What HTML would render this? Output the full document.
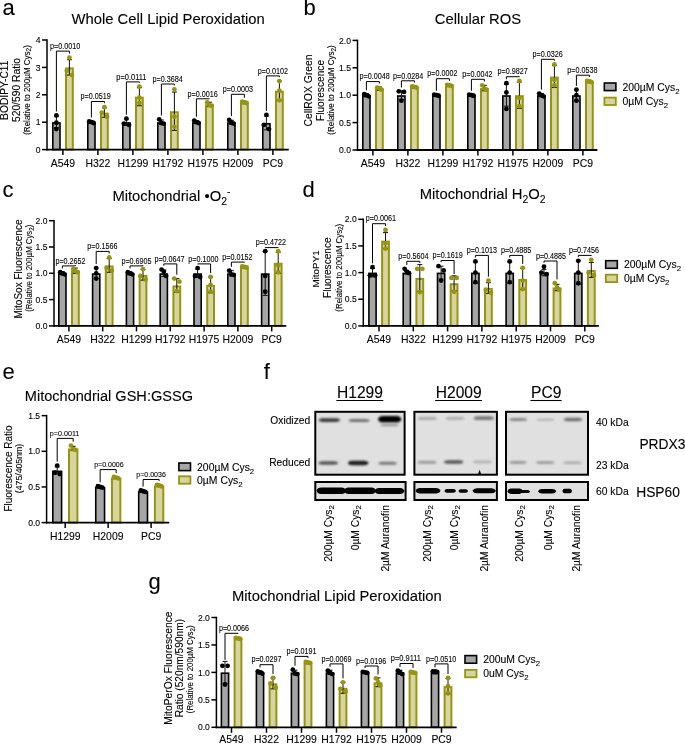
<!DOCTYPE html>
<html><head><meta charset="utf-8"><style>
html,body{margin:0;padding:0;background:#fff;}
svg{display:block;will-change:transform;}
svg text{font-family:"Liberation Sans", sans-serif;fill:#000;stroke:#000;stroke-width:0.1px;}
</style></head><body>
<svg width="685" height="744" viewBox="0 0 685 744">
<rect width="685" height="744" fill="#fff"/>
<defs><filter id="b1" x="-20%" y="-100%" width="140%" height="300%"><feGaussianBlur stdDeviation="0.9"/></filter><filter id="b2" x="-20%" y="-100%" width="140%" height="300%"><feGaussianBlur stdDeviation="0.6"/></filter></defs>
<rect x="315.3" y="411.8" width="89.3" height="62.9" fill="#e0e0e0" stroke="#000" stroke-width="2"/>
<rect x="414.4" y="411.8" width="82.5" height="62.9" fill="#e0e0e0" stroke="#000" stroke-width="2"/>
<rect x="506.0" y="411.8" width="82.0" height="62.9" fill="#e0e0e0" stroke="#000" stroke-width="2"/>
<rect x="315.3" y="482.0" width="90.3" height="18.0" fill="#e0e0e0" stroke="#000" stroke-width="2"/>
<rect x="414.4" y="482.0" width="82.5" height="18.0" fill="#e0e0e0" stroke="#000" stroke-width="2"/>
<rect x="506.0" y="482.0" width="82.0" height="18.0" fill="#e0e0e0" stroke="#000" stroke-width="2"/>
<path d="M318.4,420.10 Q319.5,418.20 322.9,418.20 L335.8,418.20 Q339.2,418.20 340.3,420.10 Q339.2,422.00 335.8,422.00 L322.9,422.00 Q319.5,422.00 318.4,420.10 Z" fill="#383838" fill-opacity="1.0" filter="url(#b1)"/>
<path d="M348.2,420.40 Q349.3,418.90 352.7,418.90 L365.5,418.90 Q368.9,418.90 370.0,420.40 Q368.9,421.90 365.5,421.90 L352.7,421.90 Q349.3,421.90 348.2,420.40 Z" fill="#6e6e6e" fill-opacity="1.0" filter="url(#b1)"/>
<path d="M378.0,419.30 Q379.1,416.05 382.5,416.05 L396.8,416.05 Q400.2,416.05 401.3,419.30 Q400.2,422.55 396.8,422.55 L382.5,422.55 Q379.1,422.55 378.0,419.30 Z" fill="#000" fill-opacity="1.0" filter="url(#b1)"/>
<path d="M380.0,425.00 Q381.0,423.75 384.2,423.75 L394.8,423.75 Q398.0,423.75 399.0,425.00 Q398.0,426.25 394.8,426.25 L384.2,426.25 Q381.0,426.25 380.0,425.00 Z" fill="#999" fill-opacity="1.0" filter="url(#b1)"/>
<path d="M318.0,463.00 Q319.1,461.30 322.5,461.30 L334.0,461.30 Q337.4,461.30 338.5,463.00 Q337.4,464.70 334.0,464.70 L322.5,464.70 Q319.1,464.70 318.0,463.00 Z" fill="#555" fill-opacity="1.0" filter="url(#b1)"/>
<path d="M347.7,463.00 Q348.8,460.70 352.2,460.70 L364.2,460.70 Q367.6,460.70 368.7,463.00 Q367.6,465.30 364.2,465.30 L352.2,465.30 Q348.8,465.30 347.7,463.00 Z" fill="#1a1a1a" fill-opacity="1.0" filter="url(#b1)"/>
<path d="M378.0,463.30 Q379.1,461.80 382.2,461.80 L393.0,461.80 Q396.1,461.80 397.2,463.30 Q396.1,464.80 393.0,464.80 L382.2,464.80 Q379.1,464.80 378.0,463.30 Z" fill="#777" fill-opacity="1.0" filter="url(#b1)"/>
<path d="M417.3,418.40 Q418.4,416.90 421.7,416.90 L433.0,416.90 Q436.3,416.90 437.4,418.40 Q436.3,419.90 433.0,419.90 L421.7,419.90 Q418.4,419.90 417.3,418.40 Z" fill="#aaa" fill-opacity="1.0" filter="url(#b1)"/>
<path d="M445.3,418.40 Q446.4,417.10 449.5,417.10 L460.4,417.10 Q463.5,417.10 464.6,418.40 Q463.5,419.70 460.4,419.70 L449.5,419.70 Q446.4,419.70 445.3,418.40 Z" fill="#aaa" fill-opacity="1.0" filter="url(#b1)"/>
<path d="M473.3,418.20 Q474.4,416.30 477.8,416.30 L489.8,416.30 Q493.2,416.30 494.3,418.20 Q493.2,420.10 489.8,420.10 L477.8,420.10 Q474.4,420.10 473.3,418.20 Z" fill="#777" fill-opacity="1.0" filter="url(#b1)"/>
<path d="M417.0,462.20 Q418.1,460.70 421.4,460.70 L432.6,460.70 Q435.9,460.70 437.0,462.20 Q435.9,463.70 432.6,463.70 L421.4,463.70 Q418.1,463.70 417.0,462.20 Z" fill="#999" fill-opacity="1.0" filter="url(#b1)"/>
<path d="M443.5,462.00 Q444.6,460.20 447.9,460.20 L459.3,460.20 Q462.6,460.20 463.7,462.00 Q462.6,463.80 459.3,463.80 L447.9,463.80 Q444.6,463.80 443.5,462.00 Z" fill="#555" fill-opacity="1.0" filter="url(#b1)"/>
<path d="M472.4,462.00 Q473.5,460.60 476.8,460.60 L488.2,460.60 Q491.5,460.60 492.6,462.00 Q491.5,463.40 488.2,463.40 L476.8,463.40 Q473.5,463.40 472.4,462.00 Z" fill="#b4b4b4" fill-opacity="1.0" filter="url(#b1)"/>
<path d="M478.0,474.0 L479.6,469.8 L481.2,474.0 Z" fill="#111"/>
<path d="M509.0,419.60 Q510.0,418.10 513.0,418.10 L523.4,418.10 Q526.4,418.10 527.4,419.60 Q526.4,421.10 523.4,421.10 L513.0,421.10 Q510.0,421.10 509.0,419.60 Z" fill="#888" fill-opacity="1.0" filter="url(#b1)"/>
<path d="M536.2,419.80 Q537.2,418.60 540.2,418.60 L550.6,418.60 Q553.6,418.60 554.6,419.80 Q553.6,421.00 550.6,421.00 L540.2,421.00 Q537.2,421.00 536.2,419.80 Z" fill="#b8b8b8" fill-opacity="1.0" filter="url(#b1)"/>
<path d="M563.3,419.50 Q564.4,417.70 567.5,417.70 L578.4,417.70 Q581.5,417.70 582.6,419.50 Q581.5,421.30 578.4,421.30 L567.5,421.30 Q564.4,421.30 563.3,419.50 Z" fill="#707070" fill-opacity="1.0" filter="url(#b1)"/>
<path d="M509.0,462.50 Q510.0,461.10 513.0,461.10 L523.0,461.10 Q526.0,461.10 527.0,462.50 Q526.0,463.90 523.0,463.90 L513.0,463.90 Q510.0,463.90 509.0,462.50 Z" fill="#999" fill-opacity="1.0" filter="url(#b1)"/>
<path d="M535.5,462.60 Q536.6,461.20 539.8,461.20 L550.7,461.20 Q553.9,461.20 555.0,462.60 Q553.9,464.00 550.7,464.00 L539.8,464.00 Q536.6,464.00 535.5,462.60 Z" fill="#999" fill-opacity="1.0" filter="url(#b1)"/>
<path d="M563.0,462.80 Q564.0,461.50 567.2,461.50 L577.8,461.50 Q581.0,461.50 582.0,462.80 Q581.0,464.10 577.8,464.10 L567.2,464.10 Q564.0,464.10 563.0,462.80 Z" fill="#a8a8a8" fill-opacity="1.0" filter="url(#b1)"/>
<path d="M316.5,490.70 Q317.6,487.50 321.0,487.50 L341.5,487.50 Q344.9,487.50 346.0,490.70 Q344.9,493.90 341.5,493.90 L321.0,493.90 Q317.6,493.90 316.5,490.70 Z" fill="#000" fill-opacity="1" filter="url(#b2)"/>
<path d="M344.0,490.70 Q345.1,487.50 348.5,487.50 L371.5,487.50 Q374.9,487.50 376.0,490.70 Q374.9,493.90 371.5,493.90 L348.5,493.90 Q345.1,493.90 344.0,490.70 Z" fill="#000" fill-opacity="1" filter="url(#b2)"/>
<path d="M374.5,490.90 Q375.6,487.90 379.0,487.90 L400.0,487.90 Q403.4,487.90 404.5,490.90 Q403.4,493.90 400.0,493.90 L379.0,493.90 Q375.6,493.90 374.5,490.90 Z" fill="#000" fill-opacity="1" filter="url(#b2)"/>
<path d="M415.5,490.80 Q416.6,488.10 420.0,488.10 L436.0,488.10 Q439.4,488.10 440.5,490.80 Q439.4,493.50 436.0,493.50 L420.0,493.50 Q416.6,493.50 415.5,490.80 Z" fill="#000" fill-opacity="1" filter="url(#b2)"/>
<path d="M444.4,490.90 Q445.0,489.10 447.0,489.10 L453.4,489.10 Q455.4,489.10 456.0,490.90 Q455.4,492.70 453.4,492.70 L447.0,492.70 Q445.0,492.70 444.4,490.90 Z" fill="#000" fill-opacity="1" filter="url(#b2)"/>
<path d="M458.4,491.00 Q458.9,489.30 460.5,489.30 L465.9,489.30 Q467.5,489.30 468.0,491.00 Q467.5,492.70 465.9,492.70 L460.5,492.70 Q458.9,492.70 458.4,491.00 Z" fill="#000" fill-opacity="1" filter="url(#b2)"/>
<path d="M472.4,490.80 Q473.5,488.30 476.9,488.30 L491.5,488.30 Q494.9,488.30 496.0,490.80 Q494.9,493.30 491.5,493.30 L476.9,493.30 Q473.5,493.30 472.4,490.80 Z" fill="#000" fill-opacity="1" filter="url(#b2)"/>
<path d="M507.3,491.20 Q508.2,488.40 510.8,488.40 L519.5,488.40 Q522.1,488.40 523.0,491.20 Q522.1,494.00 519.5,494.00 L510.8,494.00 Q508.2,494.00 507.3,491.20 Z" fill="#000" fill-opacity="1" filter="url(#b2)"/>
<path d="M519.0,491.60 Q519.6,490.10 521.4,490.10 L527.6,490.10 Q529.4,490.10 530.0,491.60 Q529.4,493.10 527.6,493.10 L521.4,493.10 Q519.6,493.10 519.0,491.60 Z" fill="#000" fill-opacity="1" filter="url(#b2)"/>
<path d="M538.0,491.20 Q539.0,489.00 542.0,489.00 L552.3,489.00 Q555.3,489.00 556.3,491.20 Q555.3,493.40 552.3,493.40 L542.0,493.40 Q539.0,493.40 538.0,491.20 Z" fill="#000" fill-opacity="1" filter="url(#b2)"/>
<path d="M562.4,491.00 Q562.9,488.80 564.5,488.80 L569.9,488.80 Q571.5,488.80 572.0,491.00 Q571.5,493.20 569.9,493.20 L564.5,493.20 Q562.9,493.20 562.4,491.00 Z" fill="#000" fill-opacity="1" filter="url(#b2)"/>
<text x="310.20" y="423.90" font-size="10.25" text-anchor="end" >Oxidized</text>
<text x="310.20" y="466.40" font-size="10.25" text-anchor="end" >Reduced</text>
<text x="596.00" y="425.50" font-size="10.3" text-anchor="start" >40 kDa</text>
<text x="596.00" y="468.80" font-size="10.3" text-anchor="start" >23 kDa</text>
<text x="596.00" y="495.30" font-size="10.3" text-anchor="start" >60 kDa</text>
<text x="639.40" y="448.90" font-size="13.8" text-anchor="start" >PRDX3</text>
<text x="636.20" y="497.00" font-size="13.8" text-anchor="start" >HSP60</text>
<text x="359.95" y="398.2" font-size="15.6" text-anchor="middle">H1299</text>
<line x1="336.37" y1="400.5" x2="383.23" y2="400.5" stroke="#000" stroke-width="1.1"/>
<text x="458.70" y="398.2" font-size="15.6" text-anchor="middle">H2009</text>
<line x1="435.12" y1="400.5" x2="481.98" y2="400.5" stroke="#000" stroke-width="1.1"/>
<text x="546.20" y="398.2" font-size="15.6" text-anchor="middle">PC9</text>
<line x1="530.43" y1="400.5" x2="561.67" y2="400.5" stroke="#000" stroke-width="1.1"/>
<text transform="translate(331.90,505.0) rotate(-90)" font-size="10.3" text-anchor="end">200µM Cys<tspan font-size="78%" dy="2">2</tspan></text>
<text transform="translate(359.40,505.0) rotate(-90)" font-size="10.3" text-anchor="end">0µM Cys<tspan font-size="78%" dy="2">2</tspan></text>
<text transform="translate(388.60,505.0) rotate(-90)" font-size="10.3" text-anchor="end">2µM Auranofin</text>
<text transform="translate(430.50,505.0) rotate(-90)" font-size="10.3" text-anchor="end">200µM Cys<tspan font-size="78%" dy="2">2</tspan></text>
<text transform="translate(458.10,505.0) rotate(-90)" font-size="10.3" text-anchor="end">0µM Cys<tspan font-size="78%" dy="2">2</tspan></text>
<text transform="translate(487.50,505.0) rotate(-90)" font-size="10.3" text-anchor="end">2µM Auranofin</text>
<text transform="translate(523.00,505.0) rotate(-90)" font-size="10.3" text-anchor="end">200µM Cys<tspan font-size="78%" dy="2">2</tspan></text>
<text transform="translate(551.90,505.0) rotate(-90)" font-size="10.3" text-anchor="end">0µM Cys<tspan font-size="78%" dy="2">2</tspan></text>
<text transform="translate(579.50,505.0) rotate(-90)" font-size="10.3" text-anchor="end">2µM Auranofin</text>
<rect x="52.80" y="123.00" width="7.20" height="26.60" fill="#a6a6a6" stroke="#000" stroke-width="1.6"/>
<line x1="56.40" y1="116.72" x2="56.40" y2="127.68" stroke="#111" stroke-width="1"/>
<line x1="53.90" y1="116.72" x2="58.90" y2="116.72" stroke="#111" stroke-width="1"/>
<line x1="53.90" y1="127.68" x2="58.90" y2="127.68" stroke="#111" stroke-width="1"/>
<circle cx="56.40" cy="115.35" r="2.4" fill="#000"/>
<circle cx="56.40" cy="122.75" r="2.4" fill="#000"/>
<circle cx="56.40" cy="129.05" r="2.4" fill="#000"/>
<rect x="66.00" y="68.40" width="6.80" height="81.20" fill="#d6d4a0" stroke="#97950f" stroke-width="2.0"/>
<line x1="69.40" y1="59.73" x2="69.40" y2="75.07" stroke="#111" stroke-width="1"/>
<line x1="66.90" y1="59.73" x2="71.90" y2="59.73" stroke="#111" stroke-width="1"/>
<line x1="66.90" y1="75.07" x2="71.90" y2="75.07" stroke="#111" stroke-width="1"/>
<circle cx="69.40" cy="57.54" r="2.4" fill="#97950f"/>
<circle cx="66.80" cy="70.69" r="2.4" fill="#97950f"/>
<circle cx="72.00" cy="75.07" r="2.4" fill="#97950f"/>
<polyline points="56.40,111.45 56.40,51.10 69.40,51.10 69.40,53.64" fill="none" stroke="#000" stroke-width="1"/>
<text x="65.10" y="48.80" font-size="8.8" text-anchor="middle" textLength="30.2" lengthAdjust="spacingAndGlyphs">p=0.0010</text>
<line x1="62.90" y1="149.60" x2="62.90" y2="155.10" stroke="#000" stroke-width="1.5"/>
<text x="62.90" y="166.80" font-size="10.4" text-anchor="middle" >A549</text>
<rect x="87.80" y="123.00" width="7.20" height="26.60" fill="#a6a6a6" stroke="#000" stroke-width="1.6"/>
<line x1="91.40" y1="121.10" x2="91.40" y2="123.30" stroke="#111" stroke-width="1"/>
<line x1="88.90" y1="121.10" x2="93.90" y2="121.10" stroke="#111" stroke-width="1"/>
<line x1="88.90" y1="123.30" x2="93.90" y2="123.30" stroke="#111" stroke-width="1"/>
<circle cx="89.20" cy="121.38" r="2.4" fill="#000"/>
<circle cx="91.40" cy="122.20" r="2.4" fill="#000"/>
<circle cx="93.60" cy="123.02" r="2.4" fill="#000"/>
<rect x="101.00" y="113.61" width="6.80" height="35.99" fill="#d6d4a0" stroke="#97950f" stroke-width="2.0"/>
<line x1="104.40" y1="107.95" x2="104.40" y2="117.27" stroke="#111" stroke-width="1"/>
<line x1="101.90" y1="107.95" x2="106.90" y2="107.95" stroke="#111" stroke-width="1"/>
<line x1="101.90" y1="117.27" x2="106.90" y2="117.27" stroke="#111" stroke-width="1"/>
<circle cx="104.40" cy="107.13" r="2.4" fill="#97950f"/>
<circle cx="101.80" cy="112.61" r="2.4" fill="#97950f"/>
<circle cx="107.00" cy="116.72" r="2.4" fill="#97950f"/>
<polyline points="91.40,117.48 91.40,101.50 104.40,101.50 104.40,103.23" fill="none" stroke="#000" stroke-width="1"/>
<text x="95.60" y="99.20" font-size="8.8" text-anchor="middle" textLength="30.2" lengthAdjust="spacingAndGlyphs">p=0.0519</text>
<line x1="97.90" y1="149.60" x2="97.90" y2="155.10" stroke="#000" stroke-width="1.5"/>
<text x="97.90" y="166.80" font-size="10.4" text-anchor="middle" >H322</text>
<rect x="122.80" y="123.00" width="7.20" height="26.60" fill="#a6a6a6" stroke="#000" stroke-width="1.6"/>
<line x1="126.40" y1="118.91" x2="126.40" y2="125.49" stroke="#111" stroke-width="1"/>
<line x1="123.90" y1="118.91" x2="128.90" y2="118.91" stroke="#111" stroke-width="1"/>
<line x1="123.90" y1="125.49" x2="128.90" y2="125.49" stroke="#111" stroke-width="1"/>
<circle cx="126.40" cy="118.64" r="2.4" fill="#000"/>
<circle cx="123.80" cy="123.57" r="2.4" fill="#000"/>
<circle cx="129.00" cy="124.94" r="2.4" fill="#000"/>
<rect x="136.00" y="97.72" width="6.80" height="51.88" fill="#d6d4a0" stroke="#97950f" stroke-width="2.0"/>
<line x1="139.40" y1="87.68" x2="139.40" y2="105.76" stroke="#111" stroke-width="1"/>
<line x1="136.90" y1="87.68" x2="141.90" y2="87.68" stroke="#111" stroke-width="1"/>
<line x1="136.90" y1="105.76" x2="141.90" y2="105.76" stroke="#111" stroke-width="1"/>
<circle cx="139.40" cy="86.58" r="2.4" fill="#97950f"/>
<circle cx="139.40" cy="97.54" r="2.4" fill="#97950f"/>
<circle cx="139.40" cy="103.02" r="2.4" fill="#97950f"/>
<polyline points="126.40,114.74 126.40,81.90 139.40,81.90 139.40,82.68" fill="none" stroke="#000" stroke-width="1"/>
<text x="131.40" y="79.60" font-size="8.8" text-anchor="middle" textLength="30.2" lengthAdjust="spacingAndGlyphs">p=0.0111</text>
<line x1="132.90" y1="149.60" x2="132.90" y2="155.10" stroke="#000" stroke-width="1.5"/>
<text x="132.90" y="166.80" font-size="10.4" text-anchor="middle" >H1299</text>
<rect x="157.80" y="123.00" width="7.20" height="26.60" fill="#a6a6a6" stroke="#000" stroke-width="1.6"/>
<line x1="161.40" y1="120.01" x2="161.40" y2="124.39" stroke="#111" stroke-width="1"/>
<line x1="158.90" y1="120.01" x2="163.90" y2="120.01" stroke="#111" stroke-width="1"/>
<line x1="158.90" y1="124.39" x2="163.90" y2="124.39" stroke="#111" stroke-width="1"/>
<circle cx="159.20" cy="119.46" r="2.4" fill="#000"/>
<circle cx="161.40" cy="123.02" r="2.4" fill="#000"/>
<circle cx="163.60" cy="123.57" r="2.4" fill="#000"/>
<rect x="171.00" y="112.24" width="6.80" height="37.36" fill="#d6d4a0" stroke="#97950f" stroke-width="2.0"/>
<line x1="174.40" y1="92.06" x2="174.40" y2="130.42" stroke="#111" stroke-width="1"/>
<line x1="171.90" y1="92.06" x2="176.90" y2="92.06" stroke="#111" stroke-width="1"/>
<line x1="171.90" y1="130.42" x2="176.90" y2="130.42" stroke="#111" stroke-width="1"/>
<circle cx="174.40" cy="89.32" r="2.4" fill="#97950f"/>
<circle cx="174.40" cy="116.72" r="2.4" fill="#97950f"/>
<circle cx="174.40" cy="126.86" r="2.4" fill="#97950f"/>
<polyline points="161.40,115.56 161.40,84.00 174.40,84.00 174.40,85.42" fill="none" stroke="#000" stroke-width="1"/>
<text x="167.60" y="81.70" font-size="8.8" text-anchor="middle" textLength="30.2" lengthAdjust="spacingAndGlyphs">p=0.3684</text>
<line x1="167.90" y1="149.60" x2="167.90" y2="155.10" stroke="#000" stroke-width="1.5"/>
<text x="167.90" y="166.80" font-size="10.4" text-anchor="middle" >H1792</text>
<rect x="192.80" y="123.00" width="7.20" height="26.60" fill="#a6a6a6" stroke="#000" stroke-width="1.6"/>
<line x1="196.40" y1="120.83" x2="196.40" y2="123.57" stroke="#111" stroke-width="1"/>
<line x1="193.90" y1="120.83" x2="198.90" y2="120.83" stroke="#111" stroke-width="1"/>
<line x1="193.90" y1="123.57" x2="198.90" y2="123.57" stroke="#111" stroke-width="1"/>
<circle cx="194.20" cy="120.56" r="2.4" fill="#000"/>
<circle cx="196.40" cy="122.20" r="2.4" fill="#000"/>
<circle cx="198.60" cy="123.02" r="2.4" fill="#000"/>
<rect x="206.00" y="105.39" width="6.80" height="44.21" fill="#d6d4a0" stroke="#97950f" stroke-width="2.0"/>
<line x1="209.40" y1="102.20" x2="209.40" y2="106.58" stroke="#111" stroke-width="1"/>
<line x1="206.90" y1="102.20" x2="211.90" y2="102.20" stroke="#111" stroke-width="1"/>
<line x1="206.90" y1="106.58" x2="211.90" y2="106.58" stroke="#111" stroke-width="1"/>
<circle cx="207.20" cy="102.47" r="2.4" fill="#97950f"/>
<circle cx="211.60" cy="105.76" r="2.4" fill="#97950f"/>
<circle cx="209.40" cy="105.21" r="2.4" fill="#97950f"/>
<polyline points="196.40,116.66 196.40,98.80 209.40,98.80 209.40,98.57" fill="none" stroke="#000" stroke-width="1"/>
<text x="202.60" y="96.50" font-size="8.8" text-anchor="middle" textLength="30.2" lengthAdjust="spacingAndGlyphs">p=0.0016</text>
<line x1="202.90" y1="149.60" x2="202.90" y2="155.10" stroke="#000" stroke-width="1.5"/>
<text x="202.90" y="166.80" font-size="10.4" text-anchor="middle" >H1975</text>
<rect x="227.80" y="123.00" width="7.20" height="26.60" fill="#a6a6a6" stroke="#000" stroke-width="1.6"/>
<line x1="231.40" y1="120.28" x2="231.40" y2="124.12" stroke="#111" stroke-width="1"/>
<line x1="228.90" y1="120.28" x2="233.90" y2="120.28" stroke="#111" stroke-width="1"/>
<line x1="228.90" y1="124.12" x2="233.90" y2="124.12" stroke="#111" stroke-width="1"/>
<circle cx="229.20" cy="120.01" r="2.4" fill="#000"/>
<circle cx="231.40" cy="122.75" r="2.4" fill="#000"/>
<circle cx="233.60" cy="123.57" r="2.4" fill="#000"/>
<rect x="241.00" y="103.47" width="6.80" height="46.13" fill="#d6d4a0" stroke="#97950f" stroke-width="2.0"/>
<line x1="244.40" y1="101.38" x2="244.40" y2="103.57" stroke="#111" stroke-width="1"/>
<line x1="241.90" y1="101.38" x2="246.90" y2="101.38" stroke="#111" stroke-width="1"/>
<line x1="241.90" y1="103.57" x2="246.90" y2="103.57" stroke="#111" stroke-width="1"/>
<circle cx="242.20" cy="101.65" r="2.4" fill="#97950f"/>
<circle cx="244.40" cy="102.47" r="2.4" fill="#97950f"/>
<circle cx="246.60" cy="103.02" r="2.4" fill="#97950f"/>
<polyline points="231.40,116.11 231.40,94.30 244.40,94.30 244.40,97.75" fill="none" stroke="#000" stroke-width="1"/>
<text x="237.90" y="92.00" font-size="8.8" text-anchor="middle" textLength="30.2" lengthAdjust="spacingAndGlyphs">p=0.0003</text>
<line x1="237.90" y1="149.60" x2="237.90" y2="155.10" stroke="#000" stroke-width="1.5"/>
<text x="237.90" y="166.80" font-size="10.4" text-anchor="middle" >H2009</text>
<rect x="262.80" y="123.82" width="7.20" height="25.78" fill="#a6a6a6" stroke="#000" stroke-width="1.6"/>
<line x1="266.40" y1="116.17" x2="266.40" y2="129.87" stroke="#111" stroke-width="1"/>
<line x1="263.90" y1="116.17" x2="268.90" y2="116.17" stroke="#111" stroke-width="1"/>
<line x1="263.90" y1="129.87" x2="268.90" y2="129.87" stroke="#111" stroke-width="1"/>
<circle cx="266.40" cy="114.80" r="2.4" fill="#000"/>
<circle cx="269.00" cy="129.05" r="2.4" fill="#000"/>
<circle cx="263.80" cy="124.94" r="2.4" fill="#000"/>
<rect x="276.00" y="91.69" width="6.80" height="57.91" fill="#d6d4a0" stroke="#97950f" stroke-width="2.0"/>
<line x1="279.40" y1="81.10" x2="279.40" y2="100.28" stroke="#111" stroke-width="1"/>
<line x1="276.90" y1="81.10" x2="281.90" y2="81.10" stroke="#111" stroke-width="1"/>
<line x1="276.90" y1="100.28" x2="281.90" y2="100.28" stroke="#111" stroke-width="1"/>
<circle cx="279.40" cy="81.10" r="2.4" fill="#97950f"/>
<circle cx="279.40" cy="90.69" r="2.4" fill="#97950f"/>
<circle cx="279.40" cy="100.28" r="2.4" fill="#97950f"/>
<polyline points="266.40,110.90 266.40,75.90 279.40,75.90 279.40,77.20" fill="none" stroke="#000" stroke-width="1"/>
<text x="272.90" y="73.60" font-size="8.8" text-anchor="middle" textLength="30.2" lengthAdjust="spacingAndGlyphs">p=0.0102</text>
<line x1="272.90" y1="149.60" x2="272.90" y2="155.10" stroke="#000" stroke-width="1.5"/>
<text x="272.90" y="166.80" font-size="10.4" text-anchor="middle" >PC9</text>
<line x1="47.00" y1="39.25" x2="47.00" y2="150.50" stroke="#000" stroke-width="1.5"/>
<line x1="46.25" y1="149.60" x2="288.80" y2="149.60" stroke="#000" stroke-width="1.8"/>
<line x1="42.00" y1="149.60" x2="47.00" y2="149.60" stroke="#000" stroke-width="1.5"/>
<text x="40.50" y="152.70" font-size="8.6" text-anchor="end" >0</text>
<line x1="42.00" y1="122.20" x2="47.00" y2="122.20" stroke="#000" stroke-width="1.5"/>
<text x="40.50" y="125.30" font-size="8.6" text-anchor="end" >1</text>
<line x1="42.00" y1="94.80" x2="47.00" y2="94.80" stroke="#000" stroke-width="1.5"/>
<text x="40.50" y="97.90" font-size="8.6" text-anchor="end" >2</text>
<line x1="42.00" y1="67.40" x2="47.00" y2="67.40" stroke="#000" stroke-width="1.5"/>
<text x="40.50" y="70.50" font-size="8.6" text-anchor="end" >3</text>
<line x1="42.00" y1="40.00" x2="47.00" y2="40.00" stroke="#000" stroke-width="1.5"/>
<text x="40.50" y="43.10" font-size="8.6" text-anchor="end" >4</text>
<rect x="362.80" y="96.00" width="7.20" height="54.00" fill="#a6a6a6" stroke="#000" stroke-width="1.6"/>
<line x1="366.40" y1="93.56" x2="366.40" y2="96.84" stroke="#111" stroke-width="1"/>
<line x1="363.90" y1="93.56" x2="368.90" y2="93.56" stroke="#111" stroke-width="1"/>
<line x1="363.90" y1="96.84" x2="368.90" y2="96.84" stroke="#111" stroke-width="1"/>
<circle cx="364.20" cy="94.10" r="2.4" fill="#000"/>
<circle cx="366.40" cy="95.20" r="2.4" fill="#000"/>
<circle cx="368.60" cy="96.30" r="2.4" fill="#000"/>
<rect x="376.00" y="89.62" width="6.80" height="60.38" fill="#d6d4a0" stroke="#97950f" stroke-width="2.0"/>
<line x1="379.40" y1="86.98" x2="379.40" y2="90.27" stroke="#111" stroke-width="1"/>
<line x1="376.90" y1="86.98" x2="381.90" y2="86.98" stroke="#111" stroke-width="1"/>
<line x1="376.90" y1="90.27" x2="381.90" y2="90.27" stroke="#111" stroke-width="1"/>
<circle cx="377.20" cy="87.53" r="2.4" fill="#97950f"/>
<circle cx="379.40" cy="88.62" r="2.4" fill="#97950f"/>
<circle cx="381.60" cy="89.72" r="2.4" fill="#97950f"/>
<polyline points="366.40,90.20 366.40,81.60 379.40,81.60 379.40,83.63" fill="none" stroke="#000" stroke-width="1"/>
<text x="374.70" y="79.30" font-size="8.8" text-anchor="middle" textLength="30.2" lengthAdjust="spacingAndGlyphs">p=0.0048</text>
<line x1="372.90" y1="150.00" x2="372.90" y2="155.50" stroke="#000" stroke-width="1.5"/>
<text x="372.90" y="167.20" font-size="10.4" text-anchor="middle" >A549</text>
<rect x="397.80" y="96.00" width="7.20" height="54.00" fill="#a6a6a6" stroke="#000" stroke-width="1.6"/>
<line x1="401.40" y1="90.82" x2="401.40" y2="99.58" stroke="#111" stroke-width="1"/>
<line x1="398.90" y1="90.82" x2="403.90" y2="90.82" stroke="#111" stroke-width="1"/>
<line x1="398.90" y1="99.58" x2="403.90" y2="99.58" stroke="#111" stroke-width="1"/>
<circle cx="398.80" cy="91.36" r="2.4" fill="#000"/>
<circle cx="404.00" cy="91.91" r="2.4" fill="#000"/>
<circle cx="401.40" cy="100.68" r="2.4" fill="#000"/>
<rect x="411.00" y="87.98" width="6.80" height="62.02" fill="#d6d4a0" stroke="#97950f" stroke-width="2.0"/>
<line x1="414.40" y1="85.88" x2="414.40" y2="88.08" stroke="#111" stroke-width="1"/>
<line x1="411.90" y1="85.88" x2="416.90" y2="85.88" stroke="#111" stroke-width="1"/>
<line x1="411.90" y1="88.08" x2="416.90" y2="88.08" stroke="#111" stroke-width="1"/>
<circle cx="412.20" cy="86.43" r="2.4" fill="#97950f"/>
<circle cx="414.40" cy="86.98" r="2.4" fill="#97950f"/>
<circle cx="416.60" cy="87.53" r="2.4" fill="#97950f"/>
<polyline points="401.40,87.46 401.40,80.80 414.40,80.80 414.40,82.53" fill="none" stroke="#000" stroke-width="1"/>
<text x="408.20" y="78.50" font-size="8.8" text-anchor="middle" textLength="30.2" lengthAdjust="spacingAndGlyphs">p=0.0284</text>
<line x1="407.90" y1="150.00" x2="407.90" y2="155.50" stroke="#000" stroke-width="1.5"/>
<text x="407.90" y="167.20" font-size="10.4" text-anchor="middle" >H322</text>
<rect x="432.80" y="96.00" width="7.20" height="54.00" fill="#a6a6a6" stroke="#000" stroke-width="1.6"/>
<line x1="436.40" y1="94.10" x2="436.40" y2="96.30" stroke="#111" stroke-width="1"/>
<line x1="433.90" y1="94.10" x2="438.90" y2="94.10" stroke="#111" stroke-width="1"/>
<line x1="433.90" y1="96.30" x2="438.90" y2="96.30" stroke="#111" stroke-width="1"/>
<circle cx="434.20" cy="94.65" r="2.4" fill="#000"/>
<circle cx="436.40" cy="95.20" r="2.4" fill="#000"/>
<circle cx="438.60" cy="95.75" r="2.4" fill="#000"/>
<rect x="446.00" y="86.34" width="6.80" height="63.66" fill="#d6d4a0" stroke="#97950f" stroke-width="2.0"/>
<line x1="449.40" y1="84.24" x2="449.40" y2="86.43" stroke="#111" stroke-width="1"/>
<line x1="446.90" y1="84.24" x2="451.90" y2="84.24" stroke="#111" stroke-width="1"/>
<line x1="446.90" y1="86.43" x2="451.90" y2="86.43" stroke="#111" stroke-width="1"/>
<circle cx="447.20" cy="84.79" r="2.4" fill="#97950f"/>
<circle cx="449.40" cy="85.34" r="2.4" fill="#97950f"/>
<circle cx="451.60" cy="85.88" r="2.4" fill="#97950f"/>
<polyline points="436.40,90.75 436.40,78.70 449.40,78.70 449.40,80.89" fill="none" stroke="#000" stroke-width="1"/>
<text x="442.40" y="76.40" font-size="8.8" text-anchor="middle" textLength="30.2" lengthAdjust="spacingAndGlyphs">p=0.0002</text>
<line x1="442.90" y1="150.00" x2="442.90" y2="155.50" stroke="#000" stroke-width="1.5"/>
<text x="442.90" y="167.20" font-size="10.4" text-anchor="middle" >H1299</text>
<rect x="467.80" y="96.00" width="7.20" height="54.00" fill="#a6a6a6" stroke="#000" stroke-width="1.6"/>
<line x1="471.40" y1="94.10" x2="471.40" y2="96.30" stroke="#111" stroke-width="1"/>
<line x1="468.90" y1="94.10" x2="473.90" y2="94.10" stroke="#111" stroke-width="1"/>
<line x1="468.90" y1="96.30" x2="473.90" y2="96.30" stroke="#111" stroke-width="1"/>
<circle cx="469.20" cy="94.65" r="2.4" fill="#000"/>
<circle cx="471.40" cy="95.20" r="2.4" fill="#000"/>
<circle cx="473.60" cy="95.75" r="2.4" fill="#000"/>
<rect x="481.00" y="89.08" width="6.80" height="60.92" fill="#d6d4a0" stroke="#97950f" stroke-width="2.0"/>
<line x1="484.40" y1="85.34" x2="484.40" y2="90.82" stroke="#111" stroke-width="1"/>
<line x1="481.90" y1="85.34" x2="486.90" y2="85.34" stroke="#111" stroke-width="1"/>
<line x1="481.90" y1="90.82" x2="486.90" y2="90.82" stroke="#111" stroke-width="1"/>
<circle cx="482.20" cy="85.34" r="2.4" fill="#97950f"/>
<circle cx="484.40" cy="88.62" r="2.4" fill="#97950f"/>
<circle cx="486.60" cy="89.72" r="2.4" fill="#97950f"/>
<polyline points="471.40,90.75 471.40,79.30 484.40,79.30 484.40,81.44" fill="none" stroke="#000" stroke-width="1"/>
<text x="477.30" y="77.00" font-size="8.8" text-anchor="middle" textLength="30.2" lengthAdjust="spacingAndGlyphs">p=0.0042</text>
<line x1="477.90" y1="150.00" x2="477.90" y2="155.50" stroke="#000" stroke-width="1.5"/>
<text x="477.90" y="167.20" font-size="10.4" text-anchor="middle" >H1792</text>
<rect x="502.80" y="96.00" width="7.20" height="54.00" fill="#a6a6a6" stroke="#000" stroke-width="1.6"/>
<line x1="506.40" y1="84.24" x2="506.40" y2="106.16" stroke="#111" stroke-width="1"/>
<line x1="503.90" y1="84.24" x2="508.90" y2="84.24" stroke="#111" stroke-width="1"/>
<line x1="503.90" y1="106.16" x2="508.90" y2="106.16" stroke="#111" stroke-width="1"/>
<circle cx="506.40" cy="83.14" r="2.4" fill="#000"/>
<circle cx="506.40" cy="92.46" r="2.4" fill="#000"/>
<circle cx="506.40" cy="108.90" r="2.4" fill="#000"/>
<rect x="516.00" y="96.20" width="6.80" height="53.80" fill="#d6d4a0" stroke="#97950f" stroke-width="2.0"/>
<line x1="519.40" y1="82.05" x2="519.40" y2="108.35" stroke="#111" stroke-width="1"/>
<line x1="516.90" y1="82.05" x2="521.90" y2="82.05" stroke="#111" stroke-width="1"/>
<line x1="516.90" y1="108.35" x2="521.90" y2="108.35" stroke="#111" stroke-width="1"/>
<circle cx="519.40" cy="80.95" r="2.4" fill="#97950f"/>
<circle cx="519.40" cy="97.94" r="2.4" fill="#97950f"/>
<circle cx="519.40" cy="106.16" r="2.4" fill="#97950f"/>
<polyline points="506.40,79.24 506.40,76.70 519.40,76.70 519.40,77.05" fill="none" stroke="#000" stroke-width="1"/>
<text x="512.60" y="74.40" font-size="8.8" text-anchor="middle" textLength="30.2" lengthAdjust="spacingAndGlyphs">p=0.9827</text>
<line x1="512.90" y1="150.00" x2="512.90" y2="155.50" stroke="#000" stroke-width="1.5"/>
<text x="512.90" y="167.20" font-size="10.4" text-anchor="middle" >H1975</text>
<rect x="537.80" y="96.00" width="7.20" height="54.00" fill="#a6a6a6" stroke="#000" stroke-width="1.6"/>
<line x1="541.40" y1="93.56" x2="541.40" y2="96.84" stroke="#111" stroke-width="1"/>
<line x1="538.90" y1="93.56" x2="543.90" y2="93.56" stroke="#111" stroke-width="1"/>
<line x1="538.90" y1="96.84" x2="543.90" y2="96.84" stroke="#111" stroke-width="1"/>
<circle cx="539.20" cy="93.56" r="2.4" fill="#000"/>
<circle cx="541.40" cy="95.20" r="2.4" fill="#000"/>
<circle cx="543.60" cy="96.30" r="2.4" fill="#000"/>
<rect x="551.00" y="77.57" width="6.80" height="72.43" fill="#d6d4a0" stroke="#97950f" stroke-width="2.0"/>
<line x1="554.40" y1="65.61" x2="554.40" y2="87.53" stroke="#111" stroke-width="1"/>
<line x1="551.90" y1="65.61" x2="556.90" y2="65.61" stroke="#111" stroke-width="1"/>
<line x1="551.90" y1="87.53" x2="556.90" y2="87.53" stroke="#111" stroke-width="1"/>
<circle cx="554.40" cy="64.51" r="2.4" fill="#97950f"/>
<circle cx="554.40" cy="79.86" r="2.4" fill="#97950f"/>
<circle cx="554.40" cy="85.34" r="2.4" fill="#97950f"/>
<polyline points="541.40,89.66 541.40,59.30 554.40,59.30 554.40,60.61" fill="none" stroke="#000" stroke-width="1"/>
<text x="547.60" y="57.00" font-size="8.8" text-anchor="middle" textLength="30.2" lengthAdjust="spacingAndGlyphs">p=0.0326</text>
<line x1="547.90" y1="150.00" x2="547.90" y2="155.50" stroke="#000" stroke-width="1.5"/>
<text x="547.90" y="167.20" font-size="10.4" text-anchor="middle" >H2009</text>
<rect x="572.80" y="96.00" width="7.20" height="54.00" fill="#a6a6a6" stroke="#000" stroke-width="1.6"/>
<line x1="576.40" y1="89.72" x2="576.40" y2="100.68" stroke="#111" stroke-width="1"/>
<line x1="573.90" y1="89.72" x2="578.90" y2="89.72" stroke="#111" stroke-width="1"/>
<line x1="573.90" y1="100.68" x2="578.90" y2="100.68" stroke="#111" stroke-width="1"/>
<circle cx="576.40" cy="89.72" r="2.4" fill="#000"/>
<circle cx="576.40" cy="95.20" r="2.4" fill="#000"/>
<circle cx="576.40" cy="100.68" r="2.4" fill="#000"/>
<rect x="586.00" y="82.50" width="6.80" height="67.50" fill="#d6d4a0" stroke="#97950f" stroke-width="2.0"/>
<line x1="589.40" y1="80.40" x2="589.40" y2="82.60" stroke="#111" stroke-width="1"/>
<line x1="586.90" y1="80.40" x2="591.90" y2="80.40" stroke="#111" stroke-width="1"/>
<line x1="586.90" y1="82.60" x2="591.90" y2="82.60" stroke="#111" stroke-width="1"/>
<circle cx="587.20" cy="80.95" r="2.4" fill="#97950f"/>
<circle cx="589.40" cy="81.50" r="2.4" fill="#97950f"/>
<circle cx="591.60" cy="82.05" r="2.4" fill="#97950f"/>
<polyline points="576.40,85.82 576.40,75.20 589.40,75.20 589.40,77.05" fill="none" stroke="#000" stroke-width="1"/>
<text x="582.30" y="72.90" font-size="8.8" text-anchor="middle" textLength="30.2" lengthAdjust="spacingAndGlyphs">p=0.0538</text>
<line x1="582.90" y1="150.00" x2="582.90" y2="155.50" stroke="#000" stroke-width="1.5"/>
<text x="582.90" y="167.20" font-size="10.4" text-anchor="middle" >PC9</text>
<line x1="357.50" y1="39.65" x2="357.50" y2="150.90" stroke="#000" stroke-width="1.5"/>
<line x1="356.75" y1="150.00" x2="597.40" y2="150.00" stroke="#000" stroke-width="1.8"/>
<line x1="352.50" y1="150.00" x2="357.50" y2="150.00" stroke="#000" stroke-width="1.5"/>
<text x="351.00" y="153.10" font-size="8.6" text-anchor="end" >0.0</text>
<line x1="352.50" y1="122.60" x2="357.50" y2="122.60" stroke="#000" stroke-width="1.5"/>
<text x="351.00" y="125.70" font-size="8.6" text-anchor="end" >0.5</text>
<line x1="352.50" y1="95.20" x2="357.50" y2="95.20" stroke="#000" stroke-width="1.5"/>
<text x="351.00" y="98.30" font-size="8.6" text-anchor="end" >1.0</text>
<line x1="352.50" y1="67.80" x2="357.50" y2="67.80" stroke="#000" stroke-width="1.5"/>
<text x="351.00" y="70.90" font-size="8.6" text-anchor="end" >1.5</text>
<line x1="352.50" y1="40.40" x2="357.50" y2="40.40" stroke="#000" stroke-width="1.5"/>
<text x="351.00" y="43.50" font-size="8.6" text-anchor="end" >2.0</text>
<rect x="58.80" y="274.10" width="7.20" height="51.80" fill="#a6a6a6" stroke="#000" stroke-width="1.6"/>
<line x1="62.40" y1="271.72" x2="62.40" y2="274.88" stroke="#111" stroke-width="1"/>
<line x1="59.90" y1="271.72" x2="64.90" y2="271.72" stroke="#111" stroke-width="1"/>
<line x1="59.90" y1="274.88" x2="64.90" y2="274.88" stroke="#111" stroke-width="1"/>
<circle cx="60.20" cy="272.25" r="2.4" fill="#000"/>
<circle cx="62.40" cy="273.30" r="2.4" fill="#000"/>
<circle cx="64.60" cy="274.35" r="2.4" fill="#000"/>
<rect x="72.00" y="271.67" width="6.80" height="54.23" fill="#d6d4a0" stroke="#97950f" stroke-width="2.0"/>
<line x1="75.40" y1="268.04" x2="75.40" y2="273.30" stroke="#111" stroke-width="1"/>
<line x1="72.90" y1="268.04" x2="77.90" y2="268.04" stroke="#111" stroke-width="1"/>
<line x1="72.90" y1="273.30" x2="77.90" y2="273.30" stroke="#111" stroke-width="1"/>
<circle cx="73.20" cy="269.09" r="2.4" fill="#97950f"/>
<circle cx="75.40" cy="270.67" r="2.4" fill="#97950f"/>
<circle cx="77.60" cy="272.25" r="2.4" fill="#97950f"/>
<polyline points="62.40,268.35 62.40,265.90 75.40,265.90 75.40,265.19" fill="none" stroke="#000" stroke-width="1"/>
<text x="70.50" y="263.60" font-size="8.8" text-anchor="middle" textLength="30.2" lengthAdjust="spacingAndGlyphs">p=0.2652</text>
<line x1="68.90" y1="325.90" x2="68.90" y2="331.40" stroke="#000" stroke-width="1.5"/>
<text x="68.90" y="343.10" font-size="10.4" text-anchor="middle" >A549</text>
<rect x="92.60" y="274.10" width="7.20" height="51.80" fill="#a6a6a6" stroke="#000" stroke-width="1.6"/>
<line x1="96.20" y1="268.04" x2="96.20" y2="278.56" stroke="#111" stroke-width="1"/>
<line x1="93.70" y1="268.04" x2="98.70" y2="268.04" stroke="#111" stroke-width="1"/>
<line x1="93.70" y1="278.56" x2="98.70" y2="278.56" stroke="#111" stroke-width="1"/>
<circle cx="96.20" cy="268.04" r="2.4" fill="#000"/>
<circle cx="96.20" cy="273.30" r="2.4" fill="#000"/>
<circle cx="96.20" cy="278.56" r="2.4" fill="#000"/>
<rect x="105.80" y="266.41" width="6.80" height="59.49" fill="#d6d4a0" stroke="#97950f" stroke-width="2.0"/>
<line x1="109.20" y1="258.57" x2="109.20" y2="272.25" stroke="#111" stroke-width="1"/>
<line x1="106.70" y1="258.57" x2="111.70" y2="258.57" stroke="#111" stroke-width="1"/>
<line x1="106.70" y1="272.25" x2="111.70" y2="272.25" stroke="#111" stroke-width="1"/>
<circle cx="109.20" cy="257.52" r="2.4" fill="#97950f"/>
<circle cx="106.60" cy="268.04" r="2.4" fill="#97950f"/>
<circle cx="111.80" cy="270.67" r="2.4" fill="#97950f"/>
<polyline points="96.20,264.14 96.20,251.40 109.20,251.40 109.20,253.62" fill="none" stroke="#000" stroke-width="1"/>
<text x="102.30" y="249.10" font-size="8.8" text-anchor="middle" textLength="30.2" lengthAdjust="spacingAndGlyphs">p=0.1566</text>
<line x1="102.70" y1="325.90" x2="102.70" y2="331.40" stroke="#000" stroke-width="1.5"/>
<text x="102.70" y="343.10" font-size="10.4" text-anchor="middle" >H322</text>
<rect x="126.40" y="274.10" width="7.20" height="51.80" fill="#a6a6a6" stroke="#000" stroke-width="1.6"/>
<line x1="130.00" y1="271.72" x2="130.00" y2="274.88" stroke="#111" stroke-width="1"/>
<line x1="127.50" y1="271.72" x2="132.50" y2="271.72" stroke="#111" stroke-width="1"/>
<line x1="127.50" y1="274.88" x2="132.50" y2="274.88" stroke="#111" stroke-width="1"/>
<circle cx="127.80" cy="272.25" r="2.4" fill="#000"/>
<circle cx="130.00" cy="273.30" r="2.4" fill="#000"/>
<circle cx="132.20" cy="274.35" r="2.4" fill="#000"/>
<rect x="139.60" y="275.88" width="6.80" height="50.02" fill="#d6d4a0" stroke="#97950f" stroke-width="2.0"/>
<line x1="143.00" y1="269.62" x2="143.00" y2="280.14" stroke="#111" stroke-width="1"/>
<line x1="140.50" y1="269.62" x2="145.50" y2="269.62" stroke="#111" stroke-width="1"/>
<line x1="140.50" y1="280.14" x2="145.50" y2="280.14" stroke="#111" stroke-width="1"/>
<circle cx="143.00" cy="269.09" r="2.4" fill="#97950f"/>
<circle cx="140.40" cy="275.93" r="2.4" fill="#97950f"/>
<circle cx="145.60" cy="279.61" r="2.4" fill="#97950f"/>
<polyline points="130.00,268.35 130.00,265.90 143.00,265.90 143.00,265.19" fill="none" stroke="#000" stroke-width="1"/>
<text x="136.50" y="263.60" font-size="8.8" text-anchor="middle" textLength="30.2" lengthAdjust="spacingAndGlyphs">p=0.6905</text>
<line x1="136.50" y1="325.90" x2="136.50" y2="331.40" stroke="#000" stroke-width="1.5"/>
<text x="136.50" y="343.10" font-size="10.4" text-anchor="middle" >H1299</text>
<rect x="160.20" y="274.10" width="7.20" height="51.80" fill="#a6a6a6" stroke="#000" stroke-width="1.6"/>
<line x1="163.80" y1="270.14" x2="163.80" y2="276.46" stroke="#111" stroke-width="1"/>
<line x1="161.30" y1="270.14" x2="166.30" y2="270.14" stroke="#111" stroke-width="1"/>
<line x1="161.30" y1="276.46" x2="166.30" y2="276.46" stroke="#111" stroke-width="1"/>
<circle cx="161.60" cy="269.62" r="2.4" fill="#000"/>
<circle cx="163.80" cy="271.72" r="2.4" fill="#000"/>
<circle cx="166.00" cy="275.93" r="2.4" fill="#000"/>
<rect x="173.40" y="286.40" width="6.80" height="39.50" fill="#d6d4a0" stroke="#97950f" stroke-width="2.0"/>
<line x1="176.80" y1="278.56" x2="176.80" y2="292.24" stroke="#111" stroke-width="1"/>
<line x1="174.30" y1="278.56" x2="179.30" y2="278.56" stroke="#111" stroke-width="1"/>
<line x1="174.30" y1="292.24" x2="179.30" y2="292.24" stroke="#111" stroke-width="1"/>
<circle cx="174.20" cy="278.56" r="2.4" fill="#97950f"/>
<circle cx="179.40" cy="281.72" r="2.4" fill="#97950f"/>
<circle cx="176.80" cy="291.18" r="2.4" fill="#97950f"/>
<polyline points="163.80,265.72 163.80,263.90 176.80,263.90 176.80,274.66" fill="none" stroke="#000" stroke-width="1"/>
<text x="169.50" y="261.60" font-size="8.8" text-anchor="middle" textLength="30.2" lengthAdjust="spacingAndGlyphs">p=0.0647</text>
<line x1="170.30" y1="325.90" x2="170.30" y2="331.40" stroke="#000" stroke-width="1.5"/>
<text x="170.30" y="343.10" font-size="10.4" text-anchor="middle" >H1792</text>
<rect x="194.00" y="274.10" width="7.20" height="51.80" fill="#a6a6a6" stroke="#000" stroke-width="1.6"/>
<line x1="197.60" y1="269.09" x2="197.60" y2="277.51" stroke="#111" stroke-width="1"/>
<line x1="195.10" y1="269.09" x2="200.10" y2="269.09" stroke="#111" stroke-width="1"/>
<line x1="195.10" y1="277.51" x2="200.10" y2="277.51" stroke="#111" stroke-width="1"/>
<circle cx="197.60" cy="268.04" r="2.4" fill="#000"/>
<circle cx="195.00" cy="275.93" r="2.4" fill="#000"/>
<circle cx="200.20" cy="276.98" r="2.4" fill="#000"/>
<rect x="207.20" y="285.87" width="6.80" height="40.03" fill="#d6d4a0" stroke="#97950f" stroke-width="2.0"/>
<line x1="210.60" y1="276.98" x2="210.60" y2="292.76" stroke="#111" stroke-width="1"/>
<line x1="208.10" y1="276.98" x2="213.10" y2="276.98" stroke="#111" stroke-width="1"/>
<line x1="208.10" y1="292.76" x2="213.10" y2="292.76" stroke="#111" stroke-width="1"/>
<circle cx="210.60" cy="276.98" r="2.4" fill="#97950f"/>
<circle cx="210.60" cy="284.87" r="2.4" fill="#97950f"/>
<circle cx="210.60" cy="291.71" r="2.4" fill="#97950f"/>
<polyline points="197.60,264.14 197.60,263.90 210.60,263.90 210.60,273.08" fill="none" stroke="#000" stroke-width="1"/>
<text x="203.40" y="261.60" font-size="8.8" text-anchor="middle" textLength="30.2" lengthAdjust="spacingAndGlyphs">p=0.1000</text>
<line x1="204.10" y1="325.90" x2="204.10" y2="331.40" stroke="#000" stroke-width="1.5"/>
<text x="204.10" y="343.10" font-size="10.4" text-anchor="middle" >H1975</text>
<rect x="227.80" y="274.10" width="7.20" height="51.80" fill="#a6a6a6" stroke="#000" stroke-width="1.6"/>
<line x1="231.40" y1="270.67" x2="231.40" y2="275.93" stroke="#111" stroke-width="1"/>
<line x1="228.90" y1="270.67" x2="233.90" y2="270.67" stroke="#111" stroke-width="1"/>
<line x1="228.90" y1="275.93" x2="233.90" y2="275.93" stroke="#111" stroke-width="1"/>
<circle cx="229.20" cy="270.67" r="2.4" fill="#000"/>
<circle cx="231.40" cy="274.35" r="2.4" fill="#000"/>
<circle cx="233.60" cy="274.88" r="2.4" fill="#000"/>
<rect x="241.00" y="267.99" width="6.80" height="57.91" fill="#d6d4a0" stroke="#97950f" stroke-width="2.0"/>
<line x1="244.40" y1="265.94" x2="244.40" y2="268.04" stroke="#111" stroke-width="1"/>
<line x1="241.90" y1="265.94" x2="246.90" y2="265.94" stroke="#111" stroke-width="1"/>
<line x1="241.90" y1="268.04" x2="246.90" y2="268.04" stroke="#111" stroke-width="1"/>
<circle cx="242.20" cy="266.46" r="2.4" fill="#97950f"/>
<circle cx="244.40" cy="266.99" r="2.4" fill="#97950f"/>
<circle cx="246.60" cy="267.51" r="2.4" fill="#97950f"/>
<polyline points="231.40,266.77 231.40,262.10 244.40,262.10 244.40,262.56" fill="none" stroke="#000" stroke-width="1"/>
<text x="237.30" y="259.80" font-size="8.8" text-anchor="middle" textLength="30.2" lengthAdjust="spacingAndGlyphs">p=0.0152</text>
<line x1="237.90" y1="325.90" x2="237.90" y2="331.40" stroke="#000" stroke-width="1.5"/>
<text x="237.90" y="343.10" font-size="10.4" text-anchor="middle" >H2009</text>
<rect x="261.60" y="274.10" width="7.20" height="51.80" fill="#a6a6a6" stroke="#000" stroke-width="1.6"/>
<line x1="265.20" y1="251.21" x2="265.20" y2="295.39" stroke="#111" stroke-width="1"/>
<line x1="262.70" y1="251.21" x2="267.70" y2="251.21" stroke="#111" stroke-width="1"/>
<line x1="262.70" y1="295.39" x2="267.70" y2="295.39" stroke="#111" stroke-width="1"/>
<circle cx="265.20" cy="251.21" r="2.4" fill="#000"/>
<circle cx="265.20" cy="275.93" r="2.4" fill="#000"/>
<circle cx="265.20" cy="291.71" r="2.4" fill="#000"/>
<rect x="274.80" y="263.78" width="6.80" height="62.12" fill="#d6d4a0" stroke="#97950f" stroke-width="2.0"/>
<line x1="278.20" y1="252.26" x2="278.20" y2="273.30" stroke="#111" stroke-width="1"/>
<line x1="275.70" y1="252.26" x2="280.70" y2="252.26" stroke="#111" stroke-width="1"/>
<line x1="275.70" y1="273.30" x2="280.70" y2="273.30" stroke="#111" stroke-width="1"/>
<circle cx="278.20" cy="251.21" r="2.4" fill="#97950f"/>
<circle cx="278.20" cy="265.41" r="2.4" fill="#97950f"/>
<circle cx="278.20" cy="272.25" r="2.4" fill="#97950f"/>
<polyline points="265.20,247.31 265.20,247.60 278.20,247.60 278.20,247.31" fill="none" stroke="#000" stroke-width="1"/>
<text x="270.90" y="245.30" font-size="8.8" text-anchor="middle" textLength="30.2" lengthAdjust="spacingAndGlyphs">p=0.4722</text>
<line x1="271.70" y1="325.90" x2="271.70" y2="331.40" stroke="#000" stroke-width="1.5"/>
<text x="271.70" y="343.10" font-size="10.4" text-anchor="middle" >PC9</text>
<line x1="54.00" y1="219.95" x2="54.00" y2="326.80" stroke="#000" stroke-width="1.5"/>
<line x1="53.25" y1="325.90" x2="286.30" y2="325.90" stroke="#000" stroke-width="1.8"/>
<line x1="49.00" y1="325.90" x2="54.00" y2="325.90" stroke="#000" stroke-width="1.5"/>
<text x="47.50" y="329.00" font-size="8.6" text-anchor="end" >0.0</text>
<line x1="49.00" y1="299.60" x2="54.00" y2="299.60" stroke="#000" stroke-width="1.5"/>
<text x="47.50" y="302.70" font-size="8.6" text-anchor="end" >0.5</text>
<line x1="49.00" y1="273.30" x2="54.00" y2="273.30" stroke="#000" stroke-width="1.5"/>
<text x="47.50" y="276.40" font-size="8.6" text-anchor="end" >1.0</text>
<line x1="49.00" y1="247.00" x2="54.00" y2="247.00" stroke="#000" stroke-width="1.5"/>
<text x="47.50" y="250.10" font-size="8.6" text-anchor="end" >1.5</text>
<line x1="49.00" y1="220.70" x2="54.00" y2="220.70" stroke="#000" stroke-width="1.5"/>
<text x="47.50" y="223.80" font-size="8.6" text-anchor="end" >2.0</text>
<rect x="368.90" y="273.40" width="7.20" height="52.50" fill="#a6a6a6" stroke="#000" stroke-width="1.6"/>
<line x1="372.50" y1="268.34" x2="372.50" y2="276.86" stroke="#111" stroke-width="1"/>
<line x1="370.00" y1="268.34" x2="375.00" y2="268.34" stroke="#111" stroke-width="1"/>
<line x1="370.00" y1="276.86" x2="375.00" y2="276.86" stroke="#111" stroke-width="1"/>
<circle cx="372.50" cy="267.27" r="2.4" fill="#000"/>
<circle cx="369.90" cy="275.26" r="2.4" fill="#000"/>
<circle cx="375.10" cy="275.26" r="2.4" fill="#000"/>
<rect x="382.10" y="241.62" width="6.80" height="84.28" fill="#d6d4a0" stroke="#97950f" stroke-width="2.0"/>
<line x1="385.50" y1="232.62" x2="385.50" y2="248.61" stroke="#111" stroke-width="1"/>
<line x1="383.00" y1="232.62" x2="388.00" y2="232.62" stroke="#111" stroke-width="1"/>
<line x1="383.00" y1="248.61" x2="388.00" y2="248.61" stroke="#111" stroke-width="1"/>
<circle cx="385.50" cy="229.96" r="2.4" fill="#97950f"/>
<circle cx="385.50" cy="243.28" r="2.4" fill="#97950f"/>
<circle cx="385.50" cy="248.61" r="2.4" fill="#97950f"/>
<polyline points="372.50,263.37 372.50,223.70 385.50,223.70 385.50,226.06" fill="none" stroke="#000" stroke-width="1"/>
<text x="380.90" y="221.40" font-size="8.8" text-anchor="middle" textLength="30.2" lengthAdjust="spacingAndGlyphs">p=0.0061</text>
<line x1="379.00" y1="325.90" x2="379.00" y2="331.40" stroke="#000" stroke-width="1.5"/>
<text x="379.00" y="343.10" font-size="10.4" text-anchor="middle" >A549</text>
<rect x="403.20" y="273.40" width="7.20" height="52.50" fill="#a6a6a6" stroke="#000" stroke-width="1.6"/>
<line x1="406.80" y1="271.00" x2="406.80" y2="274.20" stroke="#111" stroke-width="1"/>
<line x1="404.30" y1="271.00" x2="409.30" y2="271.00" stroke="#111" stroke-width="1"/>
<line x1="404.30" y1="274.20" x2="409.30" y2="274.20" stroke="#111" stroke-width="1"/>
<circle cx="404.60" cy="268.87" r="2.4" fill="#000"/>
<circle cx="406.80" cy="271.53" r="2.4" fill="#000"/>
<circle cx="409.00" cy="273.13" r="2.4" fill="#000"/>
<rect x="416.40" y="278.93" width="6.80" height="46.97" fill="#d6d4a0" stroke="#97950f" stroke-width="2.0"/>
<line x1="419.80" y1="264.60" x2="419.80" y2="291.25" stroke="#111" stroke-width="1"/>
<line x1="417.30" y1="264.60" x2="422.30" y2="264.60" stroke="#111" stroke-width="1"/>
<line x1="417.30" y1="291.25" x2="422.30" y2="291.25" stroke="#111" stroke-width="1"/>
<circle cx="417.20" cy="268.87" r="2.4" fill="#97950f"/>
<circle cx="422.40" cy="268.87" r="2.4" fill="#97950f"/>
<circle cx="419.80" cy="292.32" r="2.4" fill="#97950f"/>
<polyline points="406.80,264.97 406.80,261.30 419.80,261.30 419.80,263.10" fill="none" stroke="#000" stroke-width="1"/>
<text x="413.30" y="259.00" font-size="8.8" text-anchor="middle" textLength="30.2" lengthAdjust="spacingAndGlyphs">p=0.5604</text>
<line x1="413.30" y1="325.90" x2="413.30" y2="331.40" stroke="#000" stroke-width="1.5"/>
<text x="413.30" y="343.10" font-size="10.4" text-anchor="middle" >H322</text>
<rect x="437.50" y="273.40" width="7.20" height="52.50" fill="#a6a6a6" stroke="#000" stroke-width="1.6"/>
<line x1="441.10" y1="266.20" x2="441.10" y2="279.00" stroke="#111" stroke-width="1"/>
<line x1="438.60" y1="266.20" x2="443.60" y2="266.20" stroke="#111" stroke-width="1"/>
<line x1="438.60" y1="279.00" x2="443.60" y2="279.00" stroke="#111" stroke-width="1"/>
<circle cx="438.50" cy="266.20" r="2.4" fill="#000"/>
<circle cx="443.70" cy="270.47" r="2.4" fill="#000"/>
<circle cx="441.10" cy="280.59" r="2.4" fill="#000"/>
<rect x="450.70" y="284.26" width="6.80" height="41.64" fill="#d6d4a0" stroke="#97950f" stroke-width="2.0"/>
<line x1="454.10" y1="275.80" x2="454.10" y2="290.72" stroke="#111" stroke-width="1"/>
<line x1="451.60" y1="275.80" x2="456.60" y2="275.80" stroke="#111" stroke-width="1"/>
<line x1="451.60" y1="290.72" x2="456.60" y2="290.72" stroke="#111" stroke-width="1"/>
<circle cx="451.50" cy="277.93" r="2.4" fill="#97950f"/>
<circle cx="456.70" cy="277.93" r="2.4" fill="#97950f"/>
<circle cx="454.10" cy="291.79" r="2.4" fill="#97950f"/>
<polyline points="441.10,262.30 441.10,260.50 454.10,260.50 454.10,274.03" fill="none" stroke="#000" stroke-width="1"/>
<text x="447.60" y="258.20" font-size="8.8" text-anchor="middle" textLength="30.2" lengthAdjust="spacingAndGlyphs">p=0.1619</text>
<line x1="447.60" y1="325.90" x2="447.60" y2="331.40" stroke="#000" stroke-width="1.5"/>
<text x="447.60" y="343.10" font-size="10.4" text-anchor="middle" >H1299</text>
<rect x="471.80" y="273.40" width="7.20" height="52.50" fill="#a6a6a6" stroke="#000" stroke-width="1.6"/>
<line x1="475.40" y1="261.94" x2="475.40" y2="283.26" stroke="#111" stroke-width="1"/>
<line x1="472.90" y1="261.94" x2="477.90" y2="261.94" stroke="#111" stroke-width="1"/>
<line x1="472.90" y1="283.26" x2="477.90" y2="283.26" stroke="#111" stroke-width="1"/>
<circle cx="475.40" cy="261.41" r="2.4" fill="#000"/>
<circle cx="475.40" cy="272.60" r="2.4" fill="#000"/>
<circle cx="475.40" cy="282.19" r="2.4" fill="#000"/>
<rect x="485.00" y="289.06" width="6.80" height="36.84" fill="#d6d4a0" stroke="#97950f" stroke-width="2.0"/>
<line x1="488.40" y1="282.73" x2="488.40" y2="293.39" stroke="#111" stroke-width="1"/>
<line x1="485.90" y1="282.73" x2="490.90" y2="282.73" stroke="#111" stroke-width="1"/>
<line x1="485.90" y1="293.39" x2="490.90" y2="293.39" stroke="#111" stroke-width="1"/>
<circle cx="488.40" cy="280.59" r="2.4" fill="#97950f"/>
<circle cx="485.80" cy="289.66" r="2.4" fill="#97950f"/>
<circle cx="491.00" cy="292.85" r="2.4" fill="#97950f"/>
<polyline points="475.40,257.51 475.40,255.40 488.40,255.40 488.40,276.69" fill="none" stroke="#000" stroke-width="1"/>
<text x="481.90" y="253.10" font-size="8.8" text-anchor="middle" textLength="30.2" lengthAdjust="spacingAndGlyphs">p=0.1013</text>
<line x1="481.90" y1="325.90" x2="481.90" y2="331.40" stroke="#000" stroke-width="1.5"/>
<text x="481.90" y="343.10" font-size="10.4" text-anchor="middle" >H1792</text>
<rect x="506.10" y="273.40" width="7.20" height="52.50" fill="#a6a6a6" stroke="#000" stroke-width="1.6"/>
<line x1="509.70" y1="261.94" x2="509.70" y2="283.26" stroke="#111" stroke-width="1"/>
<line x1="507.20" y1="261.94" x2="512.20" y2="261.94" stroke="#111" stroke-width="1"/>
<line x1="507.20" y1="283.26" x2="512.20" y2="283.26" stroke="#111" stroke-width="1"/>
<circle cx="509.70" cy="261.41" r="2.4" fill="#000"/>
<circle cx="509.70" cy="272.60" r="2.4" fill="#000"/>
<circle cx="509.70" cy="282.19" r="2.4" fill="#000"/>
<rect x="519.30" y="280.00" width="6.80" height="45.90" fill="#d6d4a0" stroke="#97950f" stroke-width="2.0"/>
<line x1="522.70" y1="268.34" x2="522.70" y2="289.66" stroke="#111" stroke-width="1"/>
<line x1="520.20" y1="268.34" x2="525.20" y2="268.34" stroke="#111" stroke-width="1"/>
<line x1="520.20" y1="289.66" x2="525.20" y2="289.66" stroke="#111" stroke-width="1"/>
<circle cx="522.70" cy="267.80" r="2.4" fill="#97950f"/>
<circle cx="522.70" cy="280.59" r="2.4" fill="#97950f"/>
<circle cx="522.70" cy="289.12" r="2.4" fill="#97950f"/>
<polyline points="509.70,257.51 509.70,255.40 522.70,255.40 522.70,263.90" fill="none" stroke="#000" stroke-width="1"/>
<text x="516.20" y="253.10" font-size="8.8" text-anchor="middle" textLength="30.2" lengthAdjust="spacingAndGlyphs">p=0.4885</text>
<line x1="516.20" y1="325.90" x2="516.20" y2="331.40" stroke="#000" stroke-width="1.5"/>
<text x="516.20" y="343.10" font-size="10.4" text-anchor="middle" >H1975</text>
<rect x="540.40" y="273.40" width="7.20" height="52.50" fill="#a6a6a6" stroke="#000" stroke-width="1.6"/>
<line x1="544.00" y1="269.40" x2="544.00" y2="275.80" stroke="#111" stroke-width="1"/>
<line x1="541.50" y1="269.40" x2="546.50" y2="269.40" stroke="#111" stroke-width="1"/>
<line x1="541.50" y1="275.80" x2="546.50" y2="275.80" stroke="#111" stroke-width="1"/>
<circle cx="544.00" cy="266.74" r="2.4" fill="#000"/>
<circle cx="541.40" cy="272.60" r="2.4" fill="#000"/>
<circle cx="546.60" cy="274.20" r="2.4" fill="#000"/>
<rect x="553.60" y="288.52" width="6.80" height="37.38" fill="#d6d4a0" stroke="#97950f" stroke-width="2.0"/>
<line x1="557.00" y1="284.33" x2="557.00" y2="290.72" stroke="#111" stroke-width="1"/>
<line x1="554.50" y1="284.33" x2="559.50" y2="284.33" stroke="#111" stroke-width="1"/>
<line x1="554.50" y1="290.72" x2="559.50" y2="290.72" stroke="#111" stroke-width="1"/>
<circle cx="554.80" cy="283.26" r="2.4" fill="#97950f"/>
<circle cx="557.00" cy="287.52" r="2.4" fill="#97950f"/>
<circle cx="559.20" cy="289.66" r="2.4" fill="#97950f"/>
<polyline points="544.00,262.84 544.00,261.00 557.00,261.00 557.00,279.36" fill="none" stroke="#000" stroke-width="1"/>
<text x="551.00" y="258.70" font-size="8.8" text-anchor="middle" textLength="30.2" lengthAdjust="spacingAndGlyphs">p=0.4885</text>
<line x1="550.50" y1="325.90" x2="550.50" y2="331.40" stroke="#000" stroke-width="1.5"/>
<text x="550.50" y="343.10" font-size="10.4" text-anchor="middle" >H2009</text>
<rect x="574.70" y="273.40" width="7.20" height="52.50" fill="#a6a6a6" stroke="#000" stroke-width="1.6"/>
<line x1="578.30" y1="260.87" x2="578.30" y2="284.33" stroke="#111" stroke-width="1"/>
<line x1="575.80" y1="260.87" x2="580.80" y2="260.87" stroke="#111" stroke-width="1"/>
<line x1="575.80" y1="284.33" x2="580.80" y2="284.33" stroke="#111" stroke-width="1"/>
<circle cx="578.30" cy="260.87" r="2.4" fill="#000"/>
<circle cx="578.30" cy="272.60" r="2.4" fill="#000"/>
<circle cx="578.30" cy="283.26" r="2.4" fill="#000"/>
<rect x="587.90" y="270.94" width="6.80" height="54.96" fill="#d6d4a0" stroke="#97950f" stroke-width="2.0"/>
<line x1="591.30" y1="262.47" x2="591.30" y2="277.40" stroke="#111" stroke-width="1"/>
<line x1="588.80" y1="262.47" x2="593.80" y2="262.47" stroke="#111" stroke-width="1"/>
<line x1="588.80" y1="277.40" x2="593.80" y2="277.40" stroke="#111" stroke-width="1"/>
<circle cx="591.30" cy="259.81" r="2.4" fill="#97950f"/>
<circle cx="588.70" cy="272.60" r="2.4" fill="#97950f"/>
<circle cx="593.90" cy="275.26" r="2.4" fill="#97950f"/>
<polyline points="578.30,256.97 578.30,255.40 591.30,255.40 591.30,255.91" fill="none" stroke="#000" stroke-width="1"/>
<text x="584.00" y="253.10" font-size="8.8" text-anchor="middle" textLength="30.2" lengthAdjust="spacingAndGlyphs">p=0.7456</text>
<line x1="584.80" y1="325.90" x2="584.80" y2="331.40" stroke="#000" stroke-width="1.5"/>
<text x="584.80" y="343.10" font-size="10.4" text-anchor="middle" >PC9</text>
<line x1="363.30" y1="218.55" x2="363.30" y2="326.80" stroke="#000" stroke-width="1.5"/>
<line x1="362.55" y1="325.90" x2="598.90" y2="325.90" stroke="#000" stroke-width="1.8"/>
<line x1="358.30" y1="325.90" x2="363.30" y2="325.90" stroke="#000" stroke-width="1.5"/>
<text x="356.80" y="329.00" font-size="8.6" text-anchor="end" >0.0</text>
<line x1="358.30" y1="299.25" x2="363.30" y2="299.25" stroke="#000" stroke-width="1.5"/>
<text x="356.80" y="302.35" font-size="8.6" text-anchor="end" >0.5</text>
<line x1="358.30" y1="272.60" x2="363.30" y2="272.60" stroke="#000" stroke-width="1.5"/>
<text x="356.80" y="275.70" font-size="8.6" text-anchor="end" >1.0</text>
<line x1="358.30" y1="245.95" x2="363.30" y2="245.95" stroke="#000" stroke-width="1.5"/>
<text x="356.80" y="249.05" font-size="8.6" text-anchor="end" >1.5</text>
<line x1="358.30" y1="219.30" x2="363.30" y2="219.30" stroke="#000" stroke-width="1.5"/>
<text x="356.80" y="222.40" font-size="8.6" text-anchor="end" >2.0</text>
<rect x="52.80" y="471.35" width="8.80" height="51.25" fill="#a6a6a6" stroke="#000" stroke-width="1.6"/>
<line x1="57.20" y1="466.99" x2="57.20" y2="474.12" stroke="#111" stroke-width="1"/>
<line x1="54.70" y1="466.99" x2="59.70" y2="466.99" stroke="#111" stroke-width="1"/>
<line x1="54.70" y1="474.12" x2="59.70" y2="474.12" stroke="#111" stroke-width="1"/>
<circle cx="57.20" cy="465.56" r="2.4" fill="#000"/>
<circle cx="54.60" cy="472.69" r="2.4" fill="#000"/>
<circle cx="59.80" cy="474.12" r="2.4" fill="#000"/>
<rect x="69.00" y="449.45" width="8.40" height="73.15" fill="#d6d4a0" stroke="#97950f" stroke-width="2.0"/>
<line x1="73.20" y1="446.31" x2="73.20" y2="450.59" stroke="#111" stroke-width="1"/>
<line x1="70.70" y1="446.31" x2="75.70" y2="446.31" stroke="#111" stroke-width="1"/>
<line x1="70.70" y1="450.59" x2="75.70" y2="450.59" stroke="#111" stroke-width="1"/>
<circle cx="71.00" cy="445.60" r="2.4" fill="#97950f"/>
<circle cx="73.20" cy="449.16" r="2.4" fill="#97950f"/>
<circle cx="75.40" cy="449.87" r="2.4" fill="#97950f"/>
<polyline points="57.20,461.66 57.20,438.40 73.20,438.40 73.20,441.70" fill="none" stroke="#000" stroke-width="1"/>
<text x="64.60" y="436.10" font-size="7.9" text-anchor="middle" textLength="29.5" lengthAdjust="spacingAndGlyphs">p=0.0011</text>
<line x1="65.20" y1="522.60" x2="65.20" y2="528.10" stroke="#000" stroke-width="1.5"/>
<text x="65.20" y="539.80" font-size="10.4" text-anchor="middle" >H1299</text>
<rect x="95.75" y="487.75" width="8.80" height="34.85" fill="#a6a6a6" stroke="#000" stroke-width="1.6"/>
<line x1="100.15" y1="486.24" x2="100.15" y2="487.66" stroke="#111" stroke-width="1"/>
<line x1="97.65" y1="486.24" x2="102.65" y2="486.24" stroke="#111" stroke-width="1"/>
<line x1="97.65" y1="487.66" x2="102.65" y2="487.66" stroke="#111" stroke-width="1"/>
<circle cx="97.95" cy="486.24" r="2.4" fill="#000"/>
<circle cx="100.15" cy="486.95" r="2.4" fill="#000"/>
<circle cx="102.35" cy="487.66" r="2.4" fill="#000"/>
<rect x="111.95" y="478.68" width="8.40" height="43.92" fill="#d6d4a0" stroke="#97950f" stroke-width="2.0"/>
<line x1="116.15" y1="476.97" x2="116.15" y2="478.39" stroke="#111" stroke-width="1"/>
<line x1="113.65" y1="476.97" x2="118.65" y2="476.97" stroke="#111" stroke-width="1"/>
<line x1="113.65" y1="478.39" x2="118.65" y2="478.39" stroke="#111" stroke-width="1"/>
<circle cx="113.95" cy="476.97" r="2.4" fill="#97950f"/>
<circle cx="116.15" cy="477.68" r="2.4" fill="#97950f"/>
<circle cx="118.35" cy="478.39" r="2.4" fill="#97950f"/>
<polyline points="100.15,482.34 100.15,469.60 116.15,469.60 116.15,473.07" fill="none" stroke="#000" stroke-width="1"/>
<text x="108.95" y="467.30" font-size="7.9" text-anchor="middle" textLength="29.5" lengthAdjust="spacingAndGlyphs">p=0.0006</text>
<line x1="108.15" y1="522.60" x2="108.15" y2="528.10" stroke="#000" stroke-width="1.5"/>
<text x="108.15" y="539.80" font-size="10.4" text-anchor="middle" >H2009</text>
<rect x="138.70" y="492.03" width="8.80" height="30.57" fill="#a6a6a6" stroke="#000" stroke-width="1.6"/>
<line x1="143.10" y1="490.52" x2="143.10" y2="491.94" stroke="#111" stroke-width="1"/>
<line x1="140.60" y1="490.52" x2="145.60" y2="490.52" stroke="#111" stroke-width="1"/>
<line x1="140.60" y1="491.94" x2="145.60" y2="491.94" stroke="#111" stroke-width="1"/>
<circle cx="140.90" cy="490.52" r="2.4" fill="#000"/>
<circle cx="143.10" cy="491.23" r="2.4" fill="#000"/>
<circle cx="145.30" cy="491.94" r="2.4" fill="#000"/>
<rect x="154.90" y="486.52" width="8.40" height="36.08" fill="#d6d4a0" stroke="#97950f" stroke-width="2.0"/>
<line x1="159.10" y1="484.81" x2="159.10" y2="486.24" stroke="#111" stroke-width="1"/>
<line x1="156.60" y1="484.81" x2="161.60" y2="484.81" stroke="#111" stroke-width="1"/>
<line x1="156.60" y1="486.24" x2="161.60" y2="486.24" stroke="#111" stroke-width="1"/>
<circle cx="156.90" cy="484.81" r="2.4" fill="#97950f"/>
<circle cx="159.10" cy="485.52" r="2.4" fill="#97950f"/>
<circle cx="161.30" cy="486.24" r="2.4" fill="#97950f"/>
<polyline points="143.10,486.62 143.10,479.50 159.10,479.50 159.10,480.91" fill="none" stroke="#000" stroke-width="1"/>
<text x="151.10" y="477.20" font-size="7.9" text-anchor="middle" textLength="29.5" lengthAdjust="spacingAndGlyphs">p=0.0036</text>
<line x1="151.10" y1="522.60" x2="151.10" y2="528.10" stroke="#000" stroke-width="1.5"/>
<text x="151.10" y="539.80" font-size="10.4" text-anchor="middle" >PC9</text>
<line x1="46.60" y1="414.90" x2="46.60" y2="523.50" stroke="#000" stroke-width="1.5"/>
<line x1="45.85" y1="522.60" x2="169.30" y2="522.60" stroke="#000" stroke-width="1.8"/>
<line x1="41.60" y1="522.60" x2="46.60" y2="522.60" stroke="#000" stroke-width="1.5"/>
<text x="40.10" y="525.70" font-size="8.6" text-anchor="end" >0.0</text>
<line x1="41.60" y1="486.95" x2="46.60" y2="486.95" stroke="#000" stroke-width="1.5"/>
<text x="40.10" y="490.05" font-size="8.6" text-anchor="end" >0.5</text>
<line x1="41.60" y1="451.30" x2="46.60" y2="451.30" stroke="#000" stroke-width="1.5"/>
<text x="40.10" y="454.40" font-size="8.6" text-anchor="end" >1.0</text>
<line x1="41.60" y1="415.65" x2="46.60" y2="415.65" stroke="#000" stroke-width="1.5"/>
<text x="40.10" y="418.75" font-size="8.6" text-anchor="end" >1.5</text>
<rect x="221.40" y="673.20" width="7.20" height="54.10" fill="#a6a6a6" stroke="#000" stroke-width="1.6"/>
<line x1="225.00" y1="661.42" x2="225.00" y2="683.38" stroke="#111" stroke-width="1"/>
<line x1="222.50" y1="661.42" x2="227.50" y2="661.42" stroke="#111" stroke-width="1"/>
<line x1="222.50" y1="683.38" x2="227.50" y2="683.38" stroke="#111" stroke-width="1"/>
<circle cx="222.40" cy="665.81" r="2.4" fill="#000"/>
<circle cx="227.60" cy="665.81" r="2.4" fill="#000"/>
<circle cx="225.00" cy="684.48" r="2.4" fill="#000"/>
<rect x="234.60" y="639.36" width="6.80" height="87.94" fill="#d6d4a0" stroke="#97950f" stroke-width="2.0"/>
<line x1="238.00" y1="637.26" x2="238.00" y2="639.46" stroke="#111" stroke-width="1"/>
<line x1="235.50" y1="637.26" x2="240.50" y2="637.26" stroke="#111" stroke-width="1"/>
<line x1="235.50" y1="639.46" x2="240.50" y2="639.46" stroke="#111" stroke-width="1"/>
<circle cx="235.80" cy="637.81" r="2.4" fill="#97950f"/>
<circle cx="238.00" cy="638.36" r="2.4" fill="#97950f"/>
<circle cx="240.20" cy="638.91" r="2.4" fill="#97950f"/>
<polyline points="225.00,659.92 225.00,633.30 238.00,633.30 238.00,633.91" fill="none" stroke="#000" stroke-width="1"/>
<text x="234.00" y="631.00" font-size="8.8" text-anchor="middle" textLength="30.2" lengthAdjust="spacingAndGlyphs">p=0.0066</text>
<line x1="231.50" y1="727.30" x2="231.50" y2="732.80" stroke="#000" stroke-width="1.5"/>
<text x="231.50" y="743.10" font-size="10.4" text-anchor="middle" >A549</text>
<rect x="256.40" y="673.20" width="7.20" height="54.10" fill="#a6a6a6" stroke="#000" stroke-width="1.6"/>
<line x1="260.00" y1="670.75" x2="260.00" y2="674.05" stroke="#111" stroke-width="1"/>
<line x1="257.50" y1="670.75" x2="262.50" y2="670.75" stroke="#111" stroke-width="1"/>
<line x1="257.50" y1="674.05" x2="262.50" y2="674.05" stroke="#111" stroke-width="1"/>
<circle cx="257.80" cy="671.30" r="2.4" fill="#000"/>
<circle cx="260.00" cy="672.40" r="2.4" fill="#000"/>
<circle cx="262.20" cy="673.50" r="2.4" fill="#000"/>
<rect x="269.60" y="684.38" width="6.80" height="42.92" fill="#d6d4a0" stroke="#97950f" stroke-width="2.0"/>
<line x1="273.00" y1="677.89" x2="273.00" y2="688.87" stroke="#111" stroke-width="1"/>
<line x1="270.50" y1="677.89" x2="275.50" y2="677.89" stroke="#111" stroke-width="1"/>
<line x1="270.50" y1="688.87" x2="275.50" y2="688.87" stroke="#111" stroke-width="1"/>
<circle cx="273.00" cy="677.89" r="2.4" fill="#97950f"/>
<circle cx="270.40" cy="683.38" r="2.4" fill="#97950f"/>
<circle cx="275.60" cy="687.77" r="2.4" fill="#97950f"/>
<polyline points="260.00,667.40 260.00,664.70 273.00,664.70 273.00,673.99" fill="none" stroke="#000" stroke-width="1"/>
<text x="266.50" y="662.40" font-size="8.8" text-anchor="middle" textLength="30.2" lengthAdjust="spacingAndGlyphs">p=0.0297</text>
<line x1="266.50" y1="727.30" x2="266.50" y2="732.80" stroke="#000" stroke-width="1.5"/>
<text x="266.50" y="743.10" font-size="10.4" text-anchor="middle" >H322</text>
<rect x="291.40" y="673.20" width="7.20" height="54.10" fill="#a6a6a6" stroke="#000" stroke-width="1.6"/>
<line x1="295.00" y1="670.20" x2="295.00" y2="674.60" stroke="#111" stroke-width="1"/>
<line x1="292.50" y1="670.20" x2="297.50" y2="670.20" stroke="#111" stroke-width="1"/>
<line x1="292.50" y1="674.60" x2="297.50" y2="674.60" stroke="#111" stroke-width="1"/>
<circle cx="292.80" cy="669.65" r="2.4" fill="#000"/>
<circle cx="295.00" cy="673.50" r="2.4" fill="#000"/>
<circle cx="297.20" cy="674.05" r="2.4" fill="#000"/>
<rect x="304.60" y="663.52" width="6.80" height="63.78" fill="#d6d4a0" stroke="#97950f" stroke-width="2.0"/>
<line x1="308.00" y1="661.42" x2="308.00" y2="663.62" stroke="#111" stroke-width="1"/>
<line x1="305.50" y1="661.42" x2="310.50" y2="661.42" stroke="#111" stroke-width="1"/>
<line x1="305.50" y1="663.62" x2="310.50" y2="663.62" stroke="#111" stroke-width="1"/>
<circle cx="305.80" cy="661.97" r="2.4" fill="#97950f"/>
<circle cx="308.00" cy="662.52" r="2.4" fill="#97950f"/>
<circle cx="310.20" cy="663.07" r="2.4" fill="#97950f"/>
<polyline points="295.00,665.75 295.00,656.40 308.00,656.40 308.00,658.07" fill="none" stroke="#000" stroke-width="1"/>
<text x="301.50" y="654.10" font-size="8.8" text-anchor="middle" textLength="30.2" lengthAdjust="spacingAndGlyphs">p=0.0191</text>
<line x1="301.50" y1="727.30" x2="301.50" y2="732.80" stroke="#000" stroke-width="1.5"/>
<text x="301.50" y="743.10" font-size="10.4" text-anchor="middle" >H1299</text>
<rect x="326.40" y="673.20" width="7.20" height="54.10" fill="#a6a6a6" stroke="#000" stroke-width="1.6"/>
<line x1="330.00" y1="670.20" x2="330.00" y2="674.60" stroke="#111" stroke-width="1"/>
<line x1="327.50" y1="670.20" x2="332.50" y2="670.20" stroke="#111" stroke-width="1"/>
<line x1="327.50" y1="674.60" x2="332.50" y2="674.60" stroke="#111" stroke-width="1"/>
<circle cx="327.80" cy="670.75" r="2.4" fill="#000"/>
<circle cx="330.00" cy="672.40" r="2.4" fill="#000"/>
<circle cx="332.20" cy="674.05" r="2.4" fill="#000"/>
<rect x="339.60" y="688.77" width="6.80" height="38.53" fill="#d6d4a0" stroke="#97950f" stroke-width="2.0"/>
<line x1="343.00" y1="682.28" x2="343.00" y2="693.26" stroke="#111" stroke-width="1"/>
<line x1="340.50" y1="682.28" x2="345.50" y2="682.28" stroke="#111" stroke-width="1"/>
<line x1="340.50" y1="693.26" x2="345.50" y2="693.26" stroke="#111" stroke-width="1"/>
<circle cx="343.00" cy="682.28" r="2.4" fill="#97950f"/>
<circle cx="340.40" cy="688.87" r="2.4" fill="#97950f"/>
<circle cx="345.60" cy="691.62" r="2.4" fill="#97950f"/>
<polyline points="330.00,666.85 330.00,663.90 343.00,663.90 343.00,678.38" fill="none" stroke="#000" stroke-width="1"/>
<text x="336.50" y="661.60" font-size="8.8" text-anchor="middle" textLength="30.2" lengthAdjust="spacingAndGlyphs">p=0.0069</text>
<line x1="336.50" y1="727.30" x2="336.50" y2="732.80" stroke="#000" stroke-width="1.5"/>
<text x="336.50" y="743.10" font-size="10.4" text-anchor="middle" >H1792</text>
<rect x="361.40" y="673.20" width="7.20" height="54.10" fill="#a6a6a6" stroke="#000" stroke-width="1.6"/>
<line x1="365.00" y1="671.30" x2="365.00" y2="673.50" stroke="#111" stroke-width="1"/>
<line x1="362.50" y1="671.30" x2="367.50" y2="671.30" stroke="#111" stroke-width="1"/>
<line x1="362.50" y1="673.50" x2="367.50" y2="673.50" stroke="#111" stroke-width="1"/>
<circle cx="362.80" cy="671.85" r="2.4" fill="#000"/>
<circle cx="365.00" cy="672.40" r="2.4" fill="#000"/>
<circle cx="367.20" cy="672.95" r="2.4" fill="#000"/>
<rect x="374.60" y="683.28" width="6.80" height="44.02" fill="#d6d4a0" stroke="#97950f" stroke-width="2.0"/>
<line x1="378.00" y1="677.89" x2="378.00" y2="686.67" stroke="#111" stroke-width="1"/>
<line x1="375.50" y1="677.89" x2="380.50" y2="677.89" stroke="#111" stroke-width="1"/>
<line x1="375.50" y1="686.67" x2="380.50" y2="686.67" stroke="#111" stroke-width="1"/>
<circle cx="375.80" cy="678.44" r="2.4" fill="#97950f"/>
<circle cx="378.00" cy="682.28" r="2.4" fill="#97950f"/>
<circle cx="380.20" cy="685.58" r="2.4" fill="#97950f"/>
<polyline points="365.00,667.95 365.00,666.00 378.00,666.00 378.00,674.54" fill="none" stroke="#000" stroke-width="1"/>
<text x="371.10" y="663.70" font-size="8.8" text-anchor="middle" textLength="30.2" lengthAdjust="spacingAndGlyphs">p=0.0196</text>
<line x1="371.50" y1="727.30" x2="371.50" y2="732.80" stroke="#000" stroke-width="1.5"/>
<text x="371.50" y="743.10" font-size="10.4" text-anchor="middle" >H1975</text>
<rect x="396.40" y="673.20" width="7.20" height="54.10" fill="#a6a6a6" stroke="#000" stroke-width="1.6"/>
<line x1="400.00" y1="670.20" x2="400.00" y2="674.60" stroke="#111" stroke-width="1"/>
<line x1="397.50" y1="670.20" x2="402.50" y2="670.20" stroke="#111" stroke-width="1"/>
<line x1="397.50" y1="674.60" x2="402.50" y2="674.60" stroke="#111" stroke-width="1"/>
<circle cx="397.80" cy="670.75" r="2.4" fill="#000"/>
<circle cx="400.00" cy="672.40" r="2.4" fill="#000"/>
<circle cx="402.20" cy="674.05" r="2.4" fill="#000"/>
<rect x="409.60" y="673.40" width="6.80" height="53.90" fill="#d6d4a0" stroke="#97950f" stroke-width="2.0"/>
<line x1="413.00" y1="671.85" x2="413.00" y2="672.95" stroke="#111" stroke-width="1"/>
<line x1="410.50" y1="671.85" x2="415.50" y2="671.85" stroke="#111" stroke-width="1"/>
<line x1="410.50" y1="672.95" x2="415.50" y2="672.95" stroke="#111" stroke-width="1"/>
<circle cx="410.80" cy="671.85" r="2.4" fill="#97950f"/>
<circle cx="413.00" cy="672.40" r="2.4" fill="#97950f"/>
<circle cx="415.20" cy="672.95" r="2.4" fill="#97950f"/>
<polyline points="400.00,666.85 400.00,663.50 413.00,663.50 413.00,667.95" fill="none" stroke="#000" stroke-width="1"/>
<text x="405.90" y="661.20" font-size="8.8" text-anchor="middle" textLength="30.2" lengthAdjust="spacingAndGlyphs">p=0.9111</text>
<line x1="406.50" y1="727.30" x2="406.50" y2="732.80" stroke="#000" stroke-width="1.5"/>
<text x="406.50" y="743.10" font-size="10.4" text-anchor="middle" >H2009</text>
<rect x="431.40" y="673.20" width="7.20" height="54.10" fill="#a6a6a6" stroke="#000" stroke-width="1.6"/>
<line x1="435.00" y1="670.75" x2="435.00" y2="674.05" stroke="#111" stroke-width="1"/>
<line x1="432.50" y1="670.75" x2="437.50" y2="670.75" stroke="#111" stroke-width="1"/>
<line x1="432.50" y1="674.05" x2="437.50" y2="674.05" stroke="#111" stroke-width="1"/>
<circle cx="432.80" cy="671.30" r="2.4" fill="#000"/>
<circle cx="435.00" cy="671.30" r="2.4" fill="#000"/>
<circle cx="437.20" cy="671.85" r="2.4" fill="#000"/>
<rect x="444.60" y="687.12" width="6.80" height="40.17" fill="#d6d4a0" stroke="#97950f" stroke-width="2.0"/>
<line x1="448.00" y1="678.44" x2="448.00" y2="693.81" stroke="#111" stroke-width="1"/>
<line x1="445.50" y1="678.44" x2="450.50" y2="678.44" stroke="#111" stroke-width="1"/>
<line x1="445.50" y1="693.81" x2="450.50" y2="693.81" stroke="#111" stroke-width="1"/>
<circle cx="448.00" cy="677.89" r="2.4" fill="#97950f"/>
<circle cx="448.00" cy="686.12" r="2.4" fill="#97950f"/>
<circle cx="448.00" cy="693.26" r="2.4" fill="#97950f"/>
<polyline points="435.00,667.40 435.00,663.90 448.00,663.90 448.00,673.99" fill="none" stroke="#000" stroke-width="1"/>
<text x="441.10" y="661.60" font-size="8.8" text-anchor="middle" textLength="30.2" lengthAdjust="spacingAndGlyphs">p=0.0510</text>
<line x1="441.50" y1="727.30" x2="441.50" y2="732.80" stroke="#000" stroke-width="1.5"/>
<text x="441.50" y="743.10" font-size="10.4" text-anchor="middle" >PC9</text>
<line x1="216.40" y1="616.75" x2="216.40" y2="728.20" stroke="#000" stroke-width="1.5"/>
<line x1="215.65" y1="727.30" x2="456.70" y2="727.30" stroke="#000" stroke-width="1.8"/>
<line x1="211.40" y1="727.30" x2="216.40" y2="727.30" stroke="#000" stroke-width="1.5"/>
<text x="209.90" y="730.40" font-size="8.6" text-anchor="end" >0.0</text>
<line x1="211.40" y1="699.85" x2="216.40" y2="699.85" stroke="#000" stroke-width="1.5"/>
<text x="209.90" y="702.95" font-size="8.6" text-anchor="end" >0.5</text>
<line x1="211.40" y1="672.40" x2="216.40" y2="672.40" stroke="#000" stroke-width="1.5"/>
<text x="209.90" y="675.50" font-size="8.6" text-anchor="end" >1.0</text>
<line x1="211.40" y1="644.95" x2="216.40" y2="644.95" stroke="#000" stroke-width="1.5"/>
<text x="209.90" y="648.05" font-size="8.6" text-anchor="end" >1.5</text>
<line x1="211.40" y1="617.50" x2="216.40" y2="617.50" stroke="#000" stroke-width="1.5"/>
<text x="209.90" y="620.60" font-size="8.6" text-anchor="end" >2.0</text>
<rect x="604.30" y="83.00" width="11.60" height="7.60" fill="#a6a6a6" stroke="#000" stroke-width="1.6"/>
<rect x="604.40" y="97.60" width="11.40" height="7.40" fill="#d6d4a0" stroke="#97950f" stroke-width="1.8"/>
<text x="622.50" y="90.60" font-size="10.4" text-anchor="start" >200µM Cys<tspan font-size="75%" dy="3">2</tspan></text>
<text x="622.50" y="105.10" font-size="10.4" text-anchor="start" >0µM Cys<tspan font-size="75%" dy="3">2</tspan></text>
<rect x="605.70" y="260.70" width="11.60" height="7.60" fill="#a6a6a6" stroke="#000" stroke-width="1.6"/>
<rect x="605.80" y="274.70" width="11.40" height="7.40" fill="#d6d4a0" stroke="#97950f" stroke-width="1.8"/>
<text x="623.90" y="268.30" font-size="10.4" text-anchor="start" >200µM Cys<tspan font-size="75%" dy="3">2</tspan></text>
<text x="623.90" y="282.20" font-size="10.4" text-anchor="start" >0µM Cys<tspan font-size="75%" dy="3">2</tspan></text>
<rect x="178.90" y="463.00" width="11.60" height="7.60" fill="#a6a6a6" stroke="#000" stroke-width="1.6"/>
<rect x="179.00" y="476.30" width="11.40" height="7.40" fill="#d6d4a0" stroke="#97950f" stroke-width="1.8"/>
<text x="197.10" y="470.60" font-size="10.4" text-anchor="start" >200µM Cys<tspan font-size="75%" dy="3">2</tspan></text>
<text x="197.10" y="483.80" font-size="10.4" text-anchor="start" >0µM Cys<tspan font-size="75%" dy="3">2</tspan></text>
<rect x="465.00" y="655.60" width="11.60" height="7.60" fill="#a6a6a6" stroke="#000" stroke-width="1.6"/>
<rect x="465.10" y="669.90" width="11.40" height="7.40" fill="#d6d4a0" stroke="#97950f" stroke-width="1.8"/>
<text x="483.20" y="663.20" font-size="10.4" text-anchor="start" >200uM Cys<tspan font-size="75%" dy="3">2</tspan></text>
<text x="483.20" y="677.40" font-size="10.4" text-anchor="start" >0uM Cys<tspan font-size="75%" dy="3">2</tspan></text>
<text x="2.60" y="15.20" font-size="22" text-anchor="start" >a</text>
<text x="303.40" y="15.00" font-size="22" text-anchor="start" >b</text>
<text x="2.60" y="197.30" font-size="22" text-anchor="start" >c</text>
<text x="302.60" y="197.20" font-size="22" text-anchor="start" >d</text>
<text x="2.60" y="379.20" font-size="22" text-anchor="start" >e</text>
<text x="263.80" y="378.60" font-size="22" text-anchor="start" >f</text>
<text x="148.40" y="588.80" font-size="22" text-anchor="start" >g</text>
<text x="168.20" y="24.00" font-size="14.8" text-anchor="middle" >Whole Cell Lipid Peroxidation</text>
<text x="478.00" y="24.00" font-size="14.8" text-anchor="middle" >Cellular ROS</text>
<text x="112.40" y="201.00" font-size="14.8" text-anchor="start" >Mitochondrial •O<tspan font-size="70%" dy="4.2">2</tspan><tspan font-size="70%" dy="-10.2">-</tspan></text>
<text x="419.70" y="199.20" font-size="14.8" text-anchor="start" >Mitochondrial H<tspan font-size="70%" dy="4">2</tspan><tspan dy="-4">O</tspan><tspan font-size="70%" dy="4">2</tspan></text>
<text x="24.80" y="401.00" font-size="14.55" text-anchor="start" >Mitochondrial GSH:GSSG</text>
<text x="232.00" y="601.00" font-size="14.8" text-anchor="start" >Mitochondrial Lipid Peroxidation</text>
<text transform="translate(8.10,90.20) rotate(-90)" font-size="10.3" text-anchor="middle">BODIPY-C11</text>
<text transform="translate(20.20,90.00) rotate(-90)" font-size="10.3" text-anchor="middle">520/590 Ratio</text>
<text transform="translate(29.60,90.00) rotate(-90)" font-size="9.0" text-anchor="middle" textLength="89.6" lengthAdjust="spacingAndGlyphs">(Relative to 200µM Cys<tspan font-size="80%" dy="1.8">2</tspan><tspan dy="-1.8">)</tspan></text>
<text transform="translate(311.50,90.50) rotate(-90)" font-size="10.4" text-anchor="middle">CellROX Green</text>
<text transform="translate(323.50,90.50) rotate(-90)" font-size="10.2" text-anchor="middle">Fluorescence</text>
<text transform="translate(334.10,90.00) rotate(-90)" font-size="9.0" text-anchor="middle" textLength="89.5" lengthAdjust="spacingAndGlyphs">(Relative to 200µM Cys<tspan font-size="80%" dy="1.8">2</tspan><tspan dy="-1.8">)</tspan></text>
<text transform="translate(21.90,269.00) rotate(-90)" font-size="10.0" text-anchor="middle">MitoSox Fluorescence</text>
<text transform="translate(31.80,268.30) rotate(-90)" font-size="8.8" text-anchor="middle" textLength="87.1" lengthAdjust="spacingAndGlyphs">(Relative to 200µM Cys<tspan font-size="80%" dy="1.8">2</tspan><tspan dy="-1.8">)</tspan></text>
<text transform="translate(318.90,268.90) rotate(-90)" font-size="9.9" text-anchor="middle">MitoPY1</text>
<text transform="translate(331.00,267.70) rotate(-90)" font-size="10.1" text-anchor="middle">Fluorescence</text>
<text transform="translate(341.60,267.70) rotate(-90)" font-size="8.8" text-anchor="middle" textLength="87.9" lengthAdjust="spacingAndGlyphs">(Relative to 200µM Cys<tspan font-size="80%" dy="1.8">2</tspan><tspan dy="-1.8">)</tspan></text>
<text transform="translate(11.60,468.50) rotate(-90)" font-size="10.0" text-anchor="middle">Fluorescence Ratio</text>
<text transform="translate(22.30,468.50) rotate(-90)" font-size="8.7" text-anchor="middle">(475/405nm)</text>
<text transform="translate(172.10,668.10) rotate(-90)" font-size="10.3" text-anchor="middle">MitoPerOx Fluorescence</text>
<text transform="translate(182.60,668.10) rotate(-90)" font-size="10.2" text-anchor="middle">Ratio (520nm/590nm)</text>
<text transform="translate(193.10,669.30) rotate(-90)" font-size="8.8" text-anchor="middle" textLength="87.9" lengthAdjust="spacingAndGlyphs">(Relative to 200µM Cys<tspan font-size="80%" dy="1.8">2</tspan><tspan dy="-1.8">)</tspan></text>
</svg>
</body></html>
